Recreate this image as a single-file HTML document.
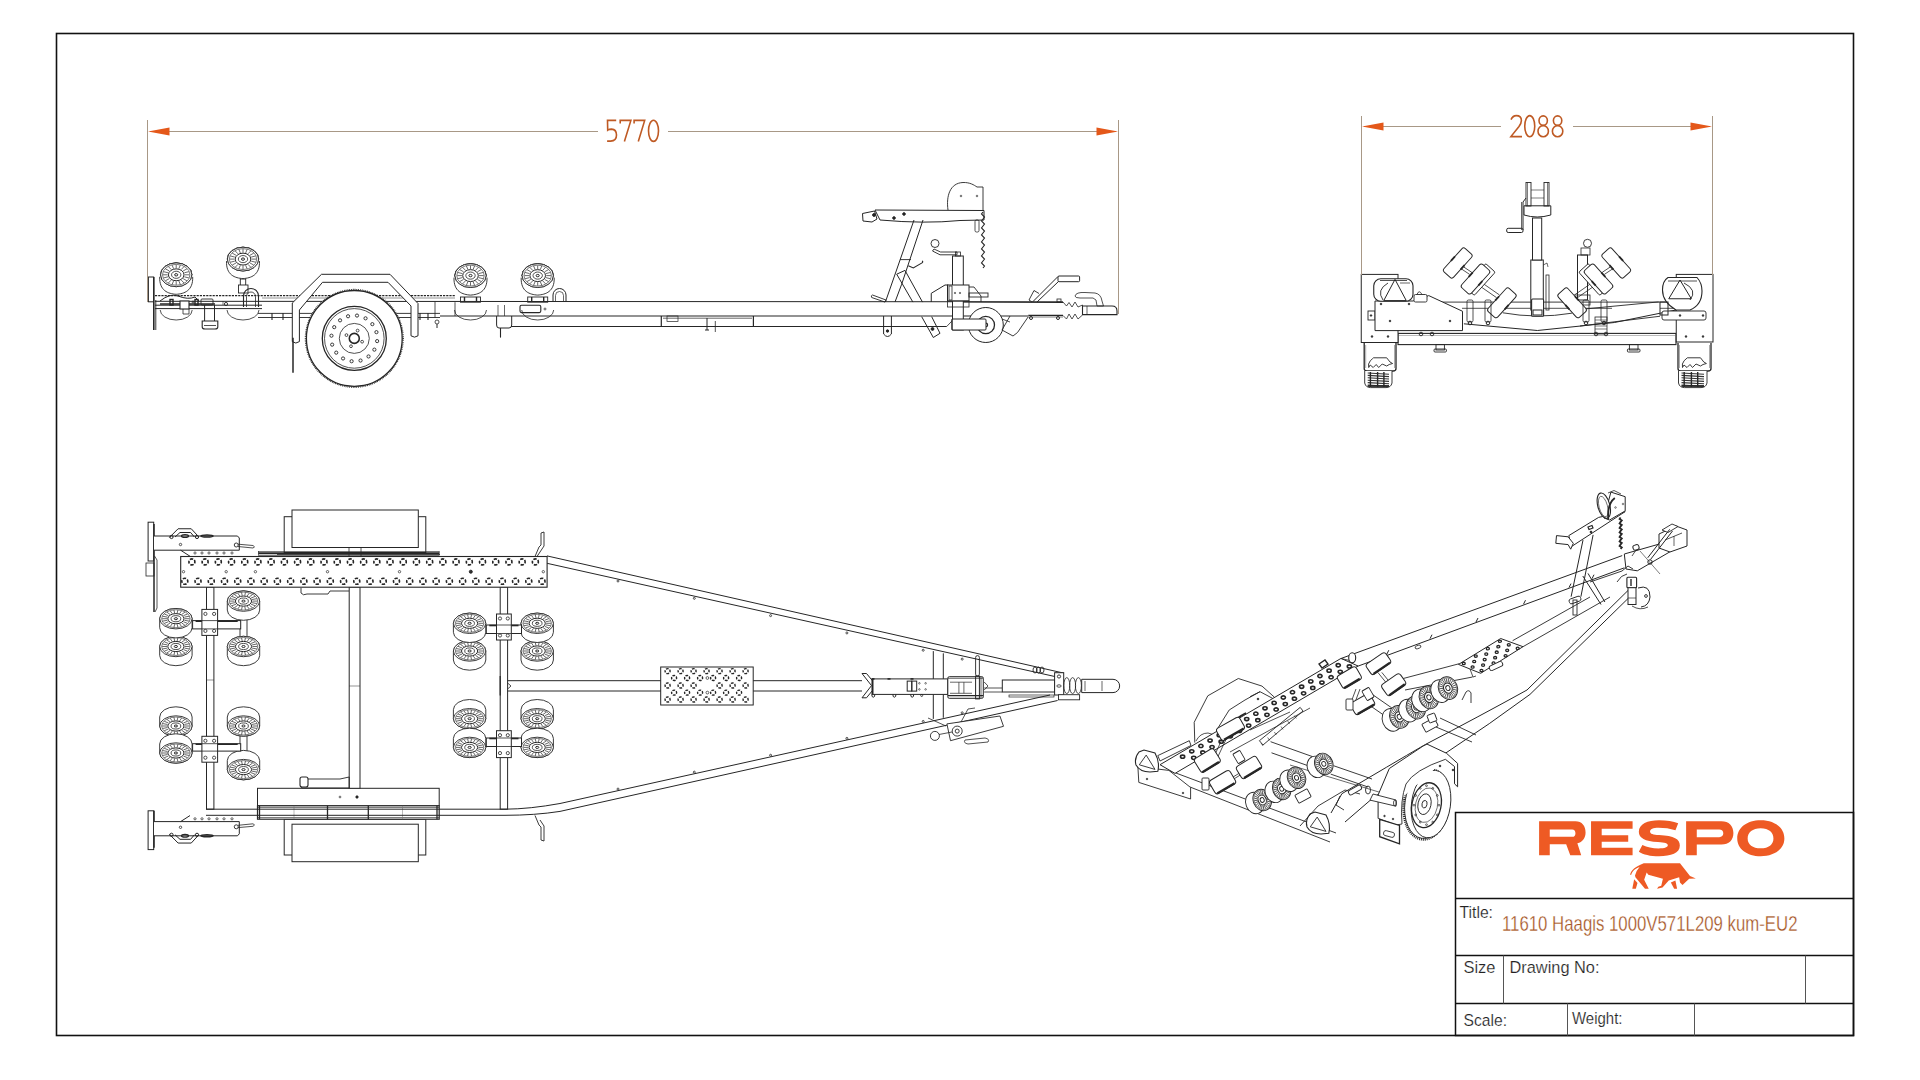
<!DOCTYPE html>
<html><head><meta charset="utf-8">
<style>
html,body{margin:0;padding:0;background:#fff;width:1920px;height:1080px;overflow:hidden}
svg{display:block}
text{font-family:"Liberation Sans",sans-serif}
</style></head>
<body>
<svg width="1920" height="1080" viewBox="0 0 1920 1080">
<rect x="0" y="0" width="1920" height="1080" fill="#fff"/>
<rect x="56.5" y="33.5" width="1797" height="1002" fill="none" stroke="#111" stroke-width="1.6"/>
<g id="side" fill="none" stroke="#262626" stroke-width="1">
<path d="M160.2,310 A16,10 0 0 0 192.2,310" stroke-width="0.8"/>
<path d="M227,310 A16,10 0 0 0 259,310" stroke-width="0.8"/>
<path d="M454.5,310 A16,10 0 0 0 486.5,310" stroke-width="0.8"/>
<path d="M521.7,310 A16,10 0 0 0 553.7,310" stroke-width="0.8"/>
<line x1="155" y1="295.6" x2="455" y2="295.6" stroke-width="1.4" stroke-dasharray="2.2,1"/>
<line x1="262" y1="298" x2="455" y2="298" stroke-width="0.7" stroke="#666"/>
<line x1="155" y1="301.3" x2="1063" y2="301.8" stroke-width="1"/>
<line x1="155" y1="305.2" x2="262" y2="305.2" stroke-width="1"/>
<line x1="155" y1="308.6" x2="262" y2="308.6" stroke-width="1"/>
<line x1="440" y1="316" x2="1028" y2="316" stroke-width="1.1"/>
<line x1="455" y1="302.2" x2="455" y2="316" stroke-width="0.8"/>
<line x1="511" y1="326.5" x2="946.7" y2="326.5" stroke-width="1"/>
<line x1="946.7" y1="326.5" x2="952.5" y2="320.4" stroke-width="0.8"/>
<line x1="661.3" y1="316" x2="661.3" y2="326.5" stroke-width="1.2"/>
<line x1="753.4" y1="316" x2="753.4" y2="326.5" stroke-width="1.2"/>
<line x1="663" y1="318.2" x2="752" y2="318.2" stroke-width="0.7"/>
<rect x="667" y="316" width="11" height="5.5" stroke-width="0.7"/>
<line x1="707" y1="318" x2="707" y2="330" stroke-width="1"/>
<line x1="705" y1="330" x2="709" y2="330" stroke-width="1"/>
<line x1="715.3" y1="321" x2="715.3" y2="332" stroke-width="0.8"/>
<line x1="258" y1="313.4" x2="440" y2="313.4" stroke-width="0.9"/>
<line x1="258" y1="317.5" x2="440" y2="317.5" stroke-width="0.9"/>
<line x1="435" y1="301.5" x2="435" y2="317.5" stroke-width="0.8"/>
<line x1="272" y1="313" x2="272" y2="320" stroke-width="1.1"/>
<line x1="283" y1="313" x2="283" y2="320" stroke-width="1.1"/>
<line x1="420" y1="313" x2="420" y2="320" stroke-width="1.1"/>
<line x1="428" y1="313" x2="428" y2="320" stroke-width="1.1"/>
<circle cx="437" cy="322" r="2" stroke-width="0.8"/>
<line x1="437" y1="324" x2="437" y2="328" stroke-width="1"/>
<rect x="520" y="305.3" width="20.8" height="7.3" stroke-width="1.1" rx="1.5"/>
<circle cx="545" cy="309" r="1" stroke-width="0.7"/>
<path d="M496.6,316 L496.6,325 Q496.6,328 499,328 L509,328 Q511.7,328 511.7,325 L511.7,316" stroke-width="1"/>
<line x1="500.5" y1="328" x2="500.5" y2="337.6" stroke-width="1.1"/>
<line x1="498" y1="305" x2="498" y2="316" stroke-width="0.7"/>
<line x1="504.5" y1="305" x2="504.5" y2="316" stroke-width="0.7"/>
<path d="M883.6,316 L883.6,334 Q887.5,339 891.4,334 L891.4,316" stroke-width="1"/>
<circle cx="887.5" cy="331" r="1.2" stroke-width="1" fill="#222"/>
<rect x="460.5" y="297" width="20" height="5.2" stroke-width="0.9"/>
<line x1="464.5" y1="297" x2="464.5" y2="302" stroke-width="1.4"/>
<line x1="476.5" y1="297" x2="476.5" y2="302" stroke-width="1.4"/>
<rect x="527.7" y="297" width="20" height="5.2" stroke-width="0.9"/>
<line x1="531.7" y1="297" x2="531.7" y2="302" stroke-width="1.4"/>
<line x1="543.7" y1="297" x2="543.7" y2="302" stroke-width="1.4"/>
<path d="M553,302 L553,295 A6.5,6.5 0 0 1 566,295 L566,302" stroke-width="1"/>
<path d="M555.5,302 L555.5,295.5 A4,4 0 0 1 563.5,295.5 L563.5,302" stroke-width="0.7"/>
<rect x="148.4" y="277" width="5.2" height="24.8" stroke-width="1" fill="#fff"/>
<line x1="153.8" y1="277" x2="153.8" y2="330" stroke-width="1.6"/>
<line x1="155.8" y1="300" x2="155.8" y2="330" stroke-width="0.9"/>
<path d="M160,301 Q170,293 178,296 Q188,300 195,297 L199,301" stroke-width="1"/>
<rect x="170" y="299.5" width="3" height="5.5" stroke-width="1.4"/>
<rect x="195" y="299.5" width="3" height="5.5" stroke-width="1.4"/>
<rect x="201" y="299" width="12" height="6" stroke-width="0.9" rx="1"/>
<line x1="160" y1="304" x2="215" y2="304" stroke-width="1.4"/>
<rect x="180" y="301" width="9" height="8" stroke-width="1.1" fill="#fff"/>
<path d="M183,309 L183,314 L189,314 L189,309" stroke-width="0.8"/>
<circle cx="193" cy="302" r="1" stroke-width="0.8"/>
<circle cx="226" cy="304" r="1.6" stroke-width="0.9"/>
<line x1="223" y1="301" x2="223" y2="305" stroke-width="0.6"/>
<line x1="204.6" y1="305" x2="204.6" y2="321" stroke-width="1"/>
<line x1="214.5" y1="305" x2="214.5" y2="321" stroke-width="1"/>
<path d="M202.2,321 L217.8,321 L217.8,327 Q217.8,329 215,329 L205,329 Q202.2,329 202.2,327 Z" stroke-width="1.1"/>
<line x1="204" y1="325.5" x2="216" y2="325.5" stroke-width="0.8"/>
<rect x="240.3" y="279" width="5.4" height="8" stroke-width="0.9"/>
<rect x="238.5" y="285" width="9.5" height="8" stroke-width="0.9" fill="#fff"/>
<path d="M243.5,307 L243.5,296 A7.5,7.5 0 0 1 258.5,296 L258.5,307" stroke-width="1.1"/>
<path d="M246.5,307 L246.5,296.5 A4.5,4.5 0 0 1 255.5,296.5 L255.5,307" stroke-width="0.8"/>
<path d="M160.4,274.8 A15.8,11.9 0 0 1 192,274.8 A17,17 0 0 1 160.4,274.8 Z" stroke-width="0.9" fill="#fff"/>
<path d="M159.7,276.8 C159.2,290.8 168.2,293.8 176.2,294.3 C184.2,293.8 193.2,290.8 192.7,276.8" stroke-width="0.9" fill="#fff"/>
<g>
<path d="M160.6,274.8 A15.6,11.9 0 0 1 191.8,274.8 L191.8,274.8 A15.6,11.9 0 0 1 160.6,274.8 Z" stroke-width="0.9" fill="#fff"/>
<ellipse cx="176.2" cy="274.8" rx="15.6" ry="11.9" stroke-width="0.9" fill="#fff"/>
<ellipse cx="176.2" cy="274.8" rx="13.73" ry="10.47" stroke-width="0.6"/>
<path d="M184.78,274.8L189.46,274.8M184.36,276.82L188.81,277.93M183.14,278.65L186.93,280.75M181.24,280.1L183.99,282.98M178.85,281.02L180.3,284.42M176.2,281.35L176.2,284.92M173.55,281.02L172.1,284.42M171.16,280.1L168.41,282.98M169.26,278.65L165.47,280.75M168.04,276.82L163.59,277.93M167.62,274.8L162.94,274.8M168.04,272.78L163.59,271.67M169.26,270.95L165.47,268.85M171.16,269.5L168.41,266.62M173.55,268.58L172.1,265.18M176.2,268.25L176.2,264.69M178.85,268.58L180.3,265.18M181.24,269.5L183.99,266.62M183.14,270.95L186.93,268.85M184.36,272.78L188.81,271.67" stroke-width="0.7"/>
<ellipse cx="176.2" cy="274.8" rx="7.8" ry="5.95" stroke-width="1"/>
<ellipse cx="176.2" cy="274.8" rx="4.68" ry="3.57" stroke-width="0.8"/>
<ellipse cx="176.2" cy="274.8" rx="1.56" ry="1.19" stroke-width="1"/>
</g>
<path d="M227.2,259.1 A15.8,11.9 0 0 1 258.8,259.1 A17,17 0 0 1 227.2,259.1 Z" stroke-width="0.9" fill="#fff"/>
<path d="M226.5,261.1 C226,275.1 235,278.1 243,278.6 C251,278.1 260,275.1 259.5,261.1" stroke-width="0.9" fill="#fff"/>
<g>
<path d="M227.4,259.1 A15.6,11.9 0 0 1 258.6,259.1 L258.6,259.1 A15.6,11.9 0 0 1 227.4,259.1 Z" stroke-width="0.9" fill="#fff"/>
<ellipse cx="243" cy="259.1" rx="15.6" ry="11.9" stroke-width="0.9" fill="#fff"/>
<ellipse cx="243" cy="259.1" rx="13.73" ry="10.47" stroke-width="0.6"/>
<path d="M251.58,259.1L256.26,259.1M251.16,261.12L255.61,262.23M249.94,262.95L253.73,265.05M248.04,264.4L250.79,267.28M245.65,265.32L247.1,268.72M243,265.65L243,269.22M240.35,265.32L238.9,268.72M237.96,264.4L235.21,267.28M236.06,262.95L232.27,265.05M234.84,261.12L230.39,262.23M234.42,259.1L229.74,259.1M234.84,257.08L230.39,255.97M236.06,255.25L232.27,253.15M237.96,253.8L235.21,250.92M240.35,252.88L238.9,249.48M243,252.56L243,248.99M245.65,252.88L247.1,249.48M248.04,253.8L250.79,250.92M249.94,255.25L253.73,253.15M251.16,257.08L255.61,255.97" stroke-width="0.7"/>
<ellipse cx="243" cy="259.1" rx="7.8" ry="5.95" stroke-width="1"/>
<ellipse cx="243" cy="259.1" rx="4.68" ry="3.57" stroke-width="0.8"/>
<ellipse cx="243" cy="259.1" rx="1.56" ry="1.19" stroke-width="1"/>
</g>
<path d="M454.7,275.6 A15.8,11.9 0 0 1 486.3,275.6 A17,17 0 0 1 454.7,275.6 Z" stroke-width="0.9" fill="#fff"/>
<path d="M454,277.6 C453.5,291.6 462.5,294.6 470.5,295.1 C478.5,294.6 487.5,291.6 487,277.6" stroke-width="0.9" fill="#fff"/>
<g>
<path d="M454.9,275.6 A15.6,11.9 0 0 1 486.1,275.6 L486.1,275.6 A15.6,11.9 0 0 1 454.9,275.6 Z" stroke-width="0.9" fill="#fff"/>
<ellipse cx="470.5" cy="275.6" rx="15.6" ry="11.9" stroke-width="0.9" fill="#fff"/>
<ellipse cx="470.5" cy="275.6" rx="13.73" ry="10.47" stroke-width="0.6"/>
<path d="M479.08,275.6L483.76,275.6M478.66,277.62L483.11,278.73M477.44,279.45L481.23,281.55M475.54,280.9L478.29,283.78M473.15,281.82L474.6,285.22M470.5,282.15L470.5,285.72M467.85,281.82L466.4,285.22M465.46,280.9L462.71,283.78M463.56,279.45L459.77,281.55M462.34,277.62L457.89,278.73M461.92,275.6L457.24,275.6M462.34,273.58L457.89,272.47M463.56,271.75L459.77,269.65M465.46,270.3L462.71,267.42M467.85,269.38L466.4,265.98M470.5,269.06L470.5,265.49M473.15,269.38L474.6,265.98M475.54,270.3L478.29,267.42M477.44,271.75L481.23,269.65M478.66,273.58L483.11,272.47" stroke-width="0.7"/>
<ellipse cx="470.5" cy="275.6" rx="7.8" ry="5.95" stroke-width="1"/>
<ellipse cx="470.5" cy="275.6" rx="4.68" ry="3.57" stroke-width="0.8"/>
<ellipse cx="470.5" cy="275.6" rx="1.56" ry="1.19" stroke-width="1"/>
</g>
<path d="M521.9,275.6 A15.8,11.9 0 0 1 553.5,275.6 A17,17 0 0 1 521.9,275.6 Z" stroke-width="0.9" fill="#fff"/>
<path d="M521.2,277.6 C520.7,291.6 529.7,294.6 537.7,295.1 C545.7,294.6 554.7,291.6 554.2,277.6" stroke-width="0.9" fill="#fff"/>
<g>
<path d="M522.1,275.6 A15.6,11.9 0 0 1 553.3,275.6 L553.3,275.6 A15.6,11.9 0 0 1 522.1,275.6 Z" stroke-width="0.9" fill="#fff"/>
<ellipse cx="537.7" cy="275.6" rx="15.6" ry="11.9" stroke-width="0.9" fill="#fff"/>
<ellipse cx="537.7" cy="275.6" rx="13.73" ry="10.47" stroke-width="0.6"/>
<path d="M546.28,275.6L550.96,275.6M545.86,277.62L550.31,278.73M544.64,279.45L548.43,281.55M542.74,280.9L545.49,283.78M540.35,281.82L541.8,285.22M537.7,282.15L537.7,285.72M535.05,281.82L533.6,285.22M532.66,280.9L529.91,283.78M530.76,279.45L526.97,281.55M529.54,277.62L525.09,278.73M529.12,275.6L524.44,275.6M529.54,273.58L525.09,272.47M530.76,271.75L526.97,269.65M532.66,270.3L529.91,267.42M535.05,269.38L533.6,265.98M537.7,269.06L537.7,265.49M540.35,269.38L541.8,265.98M542.74,270.3L545.49,267.42M544.64,271.75L548.43,269.65M545.86,273.58L550.31,272.47" stroke-width="0.7"/>
<ellipse cx="537.7" cy="275.6" rx="7.8" ry="5.95" stroke-width="1"/>
<ellipse cx="537.7" cy="275.6" rx="4.68" ry="3.57" stroke-width="0.8"/>
<ellipse cx="537.7" cy="275.6" rx="1.56" ry="1.19" stroke-width="1"/>
</g>
<circle cx="354.3" cy="338.4" r="48.9" stroke-width="1.3" fill="#fff" stroke-dasharray="0.8,1.0"/>
<circle cx="354.3" cy="338.4" r="47.9" stroke-width="1.3"/>
<circle cx="354.3" cy="338.4" r="32" stroke-width="1.3"/>
<circle cx="354.3" cy="338.4" r="29.8" stroke-width="0.8"/>
<circle cx="354.3" cy="338.4" r="15" stroke-width="0.8"/>
<circle cx="354.3" cy="338.4" r="5" stroke-width="1.6"/>
<circle cx="377.14" cy="341.1" r="1.6" stroke-width="0.9"/>
<circle cx="374.37" cy="349.64" r="1.6" stroke-width="0.9"/>
<circle cx="368.54" cy="356.46" r="1.6" stroke-width="0.9"/>
<circle cx="360.54" cy="360.54" r="1.6" stroke-width="0.9"/>
<circle cx="351.6" cy="361.24" r="1.6" stroke-width="0.9"/>
<circle cx="343.06" cy="358.47" r="1.6" stroke-width="0.9"/>
<circle cx="336.24" cy="352.64" r="1.6" stroke-width="0.9"/>
<circle cx="332.16" cy="344.64" r="1.6" stroke-width="0.9"/>
<circle cx="331.46" cy="335.7" r="1.6" stroke-width="0.9"/>
<circle cx="334.23" cy="327.16" r="1.6" stroke-width="0.9"/>
<circle cx="340.06" cy="320.34" r="1.6" stroke-width="0.9"/>
<circle cx="348.06" cy="316.26" r="1.6" stroke-width="0.9"/>
<circle cx="357" cy="315.56" r="1.6" stroke-width="0.9"/>
<circle cx="365.54" cy="318.33" r="1.6" stroke-width="0.9"/>
<circle cx="372.36" cy="324.16" r="1.6" stroke-width="0.9"/>
<circle cx="376.44" cy="332.16" r="1.6" stroke-width="0.9"/>
<circle cx="362.13" cy="341.71" r="1.4" stroke-width="0.8"/>
<circle cx="350.99" cy="346.23" r="1.4" stroke-width="0.8"/>
<circle cx="346.47" cy="335.09" r="1.4" stroke-width="0.8"/>
<circle cx="357.61" cy="330.57" r="1.4" stroke-width="0.8"/>
<path d="M292.3,341.6 L292.3,303 L321.5,274.3 L390,274.3 L418,303.5 L418,335.8 Q414.5,338.5 411,335.8 L411,306 L388,282.3 L322.5,282.3 L299.4,310 L299.4,341.6 Q295.8,344.5 292.3,341.6 Z" stroke-width="1" fill="#fff"/>
<line x1="293" y1="337.8" x2="293" y2="372.8" stroke-width="1.5"/>
<path d="M875,210 L984,210.5 L984,220 L960,220.5 Q925,224 880,220 Z" stroke-width="1" fill="#fff"/>
<polygon points="862.5,213.5 874.5,211 877,219 872,222 863,221" stroke-width="1" fill="#fff"/>
<circle cx="874" cy="215" r="1.4" stroke-width="1" fill="#222"/>
<circle cx="894" cy="218" r="1.3" stroke-width="1" fill="#222"/>
<circle cx="904" cy="214" r="1.3" stroke-width="1" fill="#222"/>
<path d="M948,210 C946,196 950,183 963,182.5 C970,182.3 974,185 977,187 L983,187 L983,210" stroke-width="0.9"/>
<circle cx="961" cy="196" r="0.8" stroke-width="0.7"/>
<circle cx="977" cy="196" r="0.8" stroke-width="0.7"/>
<rect x="975" y="220" width="4" height="12" stroke-width="0.8" rx="1.5"/>
<path d="M983,212 L981.5,214 L984.5,217 L983,219 L981.5,221 L984.5,224 L983,226 L981.5,228 L984.5,231 L983,233 L981.5,235 L984.5,238 L983,240 L981.5,242 L984.5,245 L983,247 L981.5,249 L984.5,252 L983,254 L981.5,256 L984.5,259 L983,261 L981.5,263 L984.5,266 L983,268" stroke-width="1.1"/>
<line x1="914" y1="220" x2="885.4" y2="302" stroke-width="1"/>
<line x1="923" y1="220" x2="901.7" y2="284.2" stroke-width="1"/>
<line x1="900" y1="259.6" x2="911" y2="259.6" stroke-width="0.9"/>
<line x1="901.7" y1="284.2" x2="895" y2="302" stroke-width="1"/>
<polyline points="912.9,302.1 896.7,274.2 905,270.4 922.5,302.1" stroke-width="1"/>
<polyline points="921.7,316.7 933.3,337.5 940,333.3 931.7,316.7" stroke-width="1"/>
<circle cx="932.5" cy="329" r="1.4" stroke-width="1" fill="#222"/>
<path d="M908.3,265.8 L913.3,267.9 L922,262.9 Q923.5,261.5 922,261" stroke-width="1.1"/>
<path d="M871.7,297.5 L885,302.1 L886,300 L872.5,295 Q870.5,295.5 871.7,297.5 Z" stroke-width="0.9"/>
<rect x="952.5" y="256" width="10.8" height="74" stroke-width="1" fill="#fff"/>
<rect x="955.5" y="252" width="5" height="4" stroke-width="0.8"/>
<path d="M934,249 L940.5,252 L957,252 L957,254.8 L940,254.8 L932.5,251 Z" stroke-width="0.9"/>
<circle cx="935" cy="243.5" r="4" stroke-width="0.9" fill="#fff"/>
<polyline points="969,287 974,287 981,296 981,302" stroke-width="0.9"/>
<path d="M931.25,302 L931.25,293.3 L945,285 L948.3,285" stroke-width="1"/>
<rect x="947.5" y="285" width="21.5" height="16" stroke-width="1" fill="#fff"/>
<rect x="949" y="286" width="3" height="14" stroke-width="0.8"/>
<circle cx="955" cy="293" r="0.7" stroke-width="0.7"/>
<circle cx="960" cy="293" r="0.7" stroke-width="0.7"/>
<rect x="969" y="293" width="19" height="4" stroke-width="0.9"/>
<rect x="947.5" y="301" width="21.5" height="6" stroke-width="0.8"/>
<circle cx="985.8" cy="325" r="17.5" stroke-width="1" fill="#fff"/>
<circle cx="985.8" cy="325" r="8.7" stroke-width="1.3"/>
<circle cx="985.8" cy="325" r="1.8" stroke-width="1.2"/>
<rect x="952" y="319" width="34" height="11" stroke-width="1" fill="#fff" rx="1"/>
<line x1="952" y1="319" x2="952" y2="330" stroke-width="1"/>
<line x1="963.3" y1="302" x2="1063" y2="302.5" stroke-width="1"/>
<line x1="1028.3" y1="315.4" x2="1063" y2="315.4" stroke-width="1.2"/>
<line x1="1028.3" y1="317" x2="1063" y2="317" stroke-width="0.6"/>
<polyline points="1028.3,316.7 1017.5,332.5 1013,336 1002,330 1010,316" stroke-width="0.9"/>
<line x1="1002" y1="319" x2="1010" y2="322" stroke-width="0.8"/>
<circle cx="1031" cy="318" r="1.5" stroke-width="1"/>
<circle cx="1058" cy="318" r="1.5" stroke-width="1"/>
<path d="M1063,302 L1066.5,306 L1069,302.5 L1072,307 L1075,302 L1078,307 L1082.5,305 L1082.5,315 L1078,319 L1075,314 L1072,319 L1069,314 L1066.5,319 L1063,315.5" stroke-width="0.8"/>
<path d="M1082.5,306 L1112,306 Q1117,306 1117,311 L1117,314.6 L1082.5,314.6 Z" stroke-width="1.1" fill="#fff"/>
<line x1="1087" y1="306" x2="1087" y2="314.6" stroke-width="0.7"/>
<path d="M1075,296 Q1076,292 1085,292.5 L1095,293 Q1101,294 1102,301 L1103.5,306 L1097,306 L1096,300 Q1094,297 1088,298 L1080,298 Q1075,298 1075,296 Z" stroke-width="0.8"/>
<line x1="1032.5" y1="302" x2="1058" y2="276.5" stroke-width="1"/>
<line x1="1037" y1="302" x2="1058.5" y2="281.5" stroke-width="1"/>
<rect x="1058" y="276" width="21.6" height="5.7" stroke-width="1" rx="1"/>
<path d="M1032,302 L1029,300 L1034,290.5 L1039,293.5" stroke-width="0.9"/>
<rect x="1057" y="299" width="4" height="3" stroke-width="0.8"/>
</g>
<g id="rear" fill="none" stroke="#262626" stroke-width="1">
<rect x="1398" y="333.4" width="278" height="11.2" stroke-width="1.1"/>
<line x1="1398" y1="335.5" x2="1676" y2="335.5" stroke-width="0.5" stroke="#777"/>
<line x1="1375" y1="302.1" x2="1700" y2="302.1" stroke-width="0.9"/>
<line x1="1462" y1="308.3" x2="1612" y2="308.3" stroke-width="0.8"/>
<line x1="1660" y1="308.3" x2="1700" y2="308.3" stroke-width="0.8"/>
<polyline points="1463.9,323.8 1537.4,330.5 1614.4,322.5 1676,310" stroke-width="1"/>
<path d="M1502.8,312.8 Q1537,319 1571.9,313.2" stroke-width="0.9"/>
<line x1="1580" y1="326" x2="1660" y2="316.25" stroke-width="0.9"/>
<rect x="1361.25" y="274.4" width="36.75" height="68.1" stroke-width="1" fill="#fff"/>
<rect x="1368" y="311" width="7" height="9" stroke-width="0.9" fill="#fff"/>
<circle cx="1371" cy="315.5" r="0.8" stroke-width="0.8" fill="#222"/>
<polygon points="1375,301 1413,301 1428.75,295.6 1462.5,311.25 1462.5,330.6 1375,330.6" stroke-width="1" fill="#fff"/>
<circle cx="1381" cy="304" r="0.9" stroke-width="0.5" fill="#222"/>
<circle cx="1409" cy="304" r="0.9" stroke-width="0.5" fill="#222"/>
<circle cx="1390" cy="321" r="0.9" stroke-width="0.5" fill="#222"/>
<circle cx="1450" cy="321" r="0.9" stroke-width="0.5" fill="#222"/>
<circle cx="1372" cy="336.5" r="0.9" stroke-width="0.5" fill="#222"/>
<circle cx="1388" cy="336.5" r="0.9" stroke-width="0.5" fill="#222"/>
<rect x="1414" y="294.5" width="13" height="7.5" stroke-width="0.9" fill="#fff" rx="1.5"/>
<path d="M1417,294.5 Q1419,289 1422,294.5" stroke-width="0.8"/>
<rect x="1373.75" y="278.75" width="39.25" height="22.5" stroke-width="1.1" fill="#fff" rx="7"/>
<line x1="1380" y1="280.5" x2="1407" y2="280.5" stroke-width="0.8"/>
<polygon points="1383.75,300.6 1395,279.4 1406.25,300.6" stroke-width="1"/>
<path d="M1388,283 Q1376,290 1383,300" stroke-width="0.9"/>
<path d="M1400,283 L1410,283" stroke-width="0.7"/>
<rect x="1676.25" y="274.4" width="36.75" height="67.6" stroke-width="1" fill="#fff"/>
<rect x="1662" y="311" width="44" height="9" stroke-width="0.9" fill="#fff" rx="2"/>
<circle cx="1680" cy="315.5" r="0.9" stroke-width="0.5" fill="#222"/>
<circle cx="1703" cy="315.5" r="0.9" stroke-width="0.5" fill="#222"/>
<circle cx="1686" cy="336.5" r="0.9" stroke-width="0.5" fill="#222"/>
<circle cx="1703" cy="336.5" r="0.9" stroke-width="0.5" fill="#222"/>
<path d="M1668,277.5 L1697,277.5 Q1702,283 1702,291 Q1702,305 1690,310 L1676,310 Q1662.5,302 1662.5,290 Q1662.5,281 1668,277.5 Z" stroke-width="1.1" fill="#fff"/>
<line x1="1668" y1="281" x2="1697" y2="281" stroke-width="0.8"/>
<polygon points="1668.75,298.75 1680,280 1691.25,298.75" stroke-width="1"/>
<path d="M1684,283 Q1698,290 1690,300" stroke-width="0.9"/>
<line x1="1580" y1="309.4" x2="1658.75" y2="301.9" stroke-width="0.9"/>
<rect x="1660" y="302" width="8" height="13" stroke-width="1"/>
<path d="M1364.2,343 L1364.2,368.5 Q1364.2,371 1367.2,371 L1393,371 Q1396,371 1396,368.5 L1396,343" stroke-width="1.3" fill="#fff"/>
<line x1="1365.7" y1="345" x2="1365.7" y2="368" stroke-width="0.7" stroke="#888"/>
<line x1="1394.5" y1="345" x2="1394.5" y2="368" stroke-width="0.7" stroke="#888"/>
<path d="M1368.6,364 Q1370.2,360 1372.2,359 L1373.5,357.8 L1386.7,357.8 L1390,362 L1392.6,363.5 L1389.2,364.5 L1386.7,366 L1382.2,364 L1378.7,367.5 L1376.2,364.5 L1373.2,367.5 L1370.2,365 L1368.7,367.5 L1368.6,364" stroke-width="0.9"/>
<path d="M1364.7,371 L1364.7,383 Q1365.7,387.6 1370.7,387.6 L1386,387.6 Q1391,387.6 1392,383 L1392,371" stroke-width="0.9" fill="#fff"/>
<path d="M1367.7,373L1389,374.2M1367.7,375.4L1389,376.6M1367.7,377.8L1389,379M1367.7,380.2L1389,381.4M1367.7,382.6L1389,383.8M1367.7,385L1389,386.2" stroke-width="1.1" stroke="#333"/>
<line x1="1367.7" y1="386" x2="1389" y2="386" stroke-width="1.8"/>
<line x1="1370.4" y1="372" x2="1370.4" y2="387" stroke-width="1.4"/>
<line x1="1377.6" y1="372" x2="1377.6" y2="387" stroke-width="1.4"/>
<line x1="1383.9" y1="372" x2="1383.9" y2="387" stroke-width="1.4"/>
<path d="M1678,343 L1678,368.5 Q1678,371 1681,371 L1708,371 Q1711,371 1711,368.5 L1711,343" stroke-width="1.3" fill="#fff"/>
<line x1="1679.5" y1="345" x2="1679.5" y2="368" stroke-width="0.7" stroke="#888"/>
<line x1="1709.5" y1="345" x2="1709.5" y2="368" stroke-width="0.7" stroke="#888"/>
<path d="M1682.4,364 Q1684,360 1686,359 L1687.3,357.8 L1700.5,357.8 L1703.8,362 L1706.4,363.5 L1703,364.5 L1700.5,366 L1696,364 L1692.5,367.5 L1690,364.5 L1687,367.5 L1684,365 L1682.5,367.5 L1682.4,364" stroke-width="0.9"/>
<path d="M1678.5,371 L1678.5,383 Q1679.5,387.6 1684.5,387.6 L1701,387.6 Q1706,387.6 1707,383 L1707,371" stroke-width="0.9" fill="#fff"/>
<path d="M1681.5,373L1704,374.2M1681.5,375.4L1704,376.6M1681.5,377.8L1704,379M1681.5,380.2L1704,381.4M1681.5,382.6L1704,383.8M1681.5,385L1704,386.2" stroke-width="1.1" stroke="#333"/>
<line x1="1681.5" y1="386" x2="1704" y2="386" stroke-width="1.8"/>
<line x1="1684.2" y1="372" x2="1684.2" y2="387" stroke-width="1.4"/>
<line x1="1691.4" y1="372" x2="1691.4" y2="387" stroke-width="1.4"/>
<line x1="1697.7" y1="372" x2="1697.7" y2="387" stroke-width="1.4"/>
<rect x="1436" y="344.6" width="8.4" height="5.4" stroke-width="0.9"/>
<rect x="1434" y="349" width="12.4" height="3" stroke-width="0.9" rx="1"/>
<rect x="1629.4" y="344.6" width="8.6" height="5.4" stroke-width="0.9"/>
<rect x="1627.4" y="349" width="12.6" height="3" stroke-width="0.9" rx="1"/>
<circle cx="1421" cy="334" r="1.8" stroke-width="0.9"/>
<circle cx="1432" cy="334" r="1.8" stroke-width="0.9"/>
<circle cx="1596" cy="334" r="1.8" stroke-width="0.9"/>
<circle cx="1606" cy="334" r="1.8" stroke-width="0.9"/>
<rect x="1595" y="317" width="12" height="17" stroke-width="0.8"/>
<line x1="1595" y1="320" x2="1607" y2="320" stroke-width="0.6"/>
<line x1="1595" y1="323" x2="1607" y2="323" stroke-width="0.6"/>
<line x1="1595" y1="326" x2="1607" y2="326" stroke-width="0.6"/>
<line x1="1595" y1="329" x2="1607" y2="329" stroke-width="0.6"/>
<rect x="1530.8" y="260" width="12.5" height="50" stroke-width="1" fill="#fff"/>
<rect x="1532.5" y="218" width="9.2" height="42" stroke-width="1" fill="#fff"/>
<path d="M1524,205.8 L1550.8,205.8 L1550.8,215 Q1537,219 1524,215 Z" stroke-width="1" fill="#fff"/>
<rect x="1526" y="182.5" width="5" height="23.5" stroke-width="0.9"/>
<rect x="1544" y="182.5" width="5" height="23.5" stroke-width="0.9"/>
<line x1="1527.5" y1="182.5" x2="1527.5" y2="206" stroke-width="0.6"/>
<line x1="1547.5" y1="182.5" x2="1547.5" y2="206" stroke-width="0.6"/>
<line x1="1531" y1="190" x2="1544" y2="190" stroke-width="0.6"/>
<line x1="1531" y1="198" x2="1544" y2="198" stroke-width="0.6"/>
<polyline points="1526,198 1523,202 1523,230" stroke-width="1"/>
<line x1="1521.5" y1="202" x2="1521.5" y2="230" stroke-width="0.7"/>
<rect x="1506.7" y="228.3" width="16.3" height="4.2" stroke-width="1" rx="1.5"/>
<rect x="1531.6" y="299" width="12" height="17.3" stroke-width="1.1" fill="#fff" rx="1"/>
<rect x="1533" y="310" width="9" height="5" stroke-width="1"/>
<rect x="1546" y="275" width="3" height="35" stroke-width="0.8"/>
<path d="M1543.3,265 L1547,263 L1548,267" stroke-width="0.7"/>
<rect x="1577.5" y="255" width="10" height="45" stroke-width="1" fill="#fff"/>
<rect x="1581" y="248" width="9" height="7" stroke-width="0.8"/>
<circle cx="1587.5" cy="243.3" r="4" stroke-width="0.9" fill="#fff"/>
<rect x="1574" y="295" width="16" height="10" stroke-width="0.8"/>
<line x1="1461.75" y1="269.15" x2="1469.55" y2="274.35" stroke-width="0.8"/>
<line x1="1612.25" y1="269.15" x2="1604.45" y2="274.35" stroke-width="0.8"/>
<line x1="1463.85" y1="267.05" x2="1471.65" y2="272.25" stroke-width="0.8"/>
<line x1="1610.15" y1="267.05" x2="1602.35" y2="272.25" stroke-width="0.8"/>
<line x1="1479.5" y1="285.8" x2="1496.6" y2="297.7" stroke-width="0.8"/>
<line x1="1594.5" y1="285.8" x2="1577.4" y2="297.7" stroke-width="0.8"/>
<line x1="1482.3" y1="283" x2="1499.4" y2="294.9" stroke-width="0.8"/>
<line x1="1591.7" y1="283" x2="1574.6" y2="294.9" stroke-width="0.8"/>
<rect x="1442" y="256.55" width="31.5" height="12.9" rx="2.5" transform="rotate(-48 1457.75 263)" stroke-width="0.95" fill="#fff"/>
<rect x="1600.5" y="256.55" width="31.5" height="12.9" rx="2.5" transform="rotate(48 1616.25 263)" stroke-width="0.95" fill="#fff"/>
<line x1="1460.54" y1="269.55" x2="1464.55" y2="265.09" stroke-width="1.8"/>
<line x1="1613.46" y1="269.55" x2="1609.45" y2="265.09" stroke-width="1.8"/>
<line x1="1450.95" y1="260.91" x2="1454.96" y2="256.45" stroke-width="1.8"/>
<line x1="1623.05" y1="260.91" x2="1619.04" y2="256.45" stroke-width="1.8"/>
<rect x="1464.35" y="273.05" width="31.3" height="12.9" rx="1.5" transform="rotate(-48 1480 279.5)" stroke-width="0.9" fill="#fff"/>
<rect x="1578.35" y="273.05" width="31.3" height="12.9" rx="1.5" transform="rotate(48 1594 279.5)" stroke-width="0.9" fill="#fff"/>
<rect x="1459.85" y="272.55" width="31.3" height="12.9" rx="2.5" transform="rotate(-48 1475.5 279)" stroke-width="0.95" fill="#fff"/>
<rect x="1582.85" y="272.55" width="31.3" height="12.9" rx="2.5" transform="rotate(48 1598.5 279)" stroke-width="0.95" fill="#fff"/>
<line x1="1478.29" y1="285.55" x2="1482.3" y2="281.09" stroke-width="1.8"/>
<line x1="1595.71" y1="285.55" x2="1591.7" y2="281.09" stroke-width="1.8"/>
<line x1="1468.7" y1="276.91" x2="1472.71" y2="272.45" stroke-width="1.8"/>
<line x1="1605.3" y1="276.91" x2="1601.29" y2="272.45" stroke-width="1.8"/>
<rect x="1486.25" y="296.35" width="31.3" height="12.9" rx="2.5" transform="rotate(-48 1501.9 302.8)" stroke-width="0.95" fill="#fff"/>
<rect x="1556.45" y="296.35" width="31.3" height="12.9" rx="2.5" transform="rotate(48 1572.1 302.8)" stroke-width="0.95" fill="#fff"/>
<line x1="1504.69" y1="309.35" x2="1508.7" y2="304.89" stroke-width="1.8"/>
<line x1="1569.31" y1="309.35" x2="1565.3" y2="304.89" stroke-width="1.8"/>
<line x1="1495.1" y1="300.71" x2="1499.11" y2="296.25" stroke-width="1.8"/>
<line x1="1578.9" y1="300.71" x2="1574.89" y2="296.25" stroke-width="1.8"/>
<rect x="1467" y="300" width="6" height="22" stroke-width="0.8" rx="1.5"/>
<circle cx="1470" cy="323" r="1.8" stroke-width="1"/>
<rect x="1485" y="300" width="6" height="22" stroke-width="0.8" rx="1.5"/>
<circle cx="1488" cy="323" r="1.8" stroke-width="1"/>
<rect x="1601" y="300" width="6" height="22" stroke-width="0.8" rx="1.5"/>
<circle cx="1604" cy="323" r="1.8" stroke-width="1"/>
<rect x="1583" y="300" width="6" height="22" stroke-width="0.8" rx="1.5"/>
<circle cx="1586" cy="323" r="1.8" stroke-width="1"/>
</g>
<g id="top" fill="none" stroke="#262626" stroke-width="1">
<rect x="284.2" y="516.7" width="141.6" height="35.8" stroke-width="1"/>
<rect x="292" y="510" width="126.3" height="37.5" stroke-width="1" fill="#fff"/>
<rect x="284.2" y="819.2" width="141.6" height="35.8" stroke-width="1"/>
<rect x="292" y="824.2" width="126.3" height="37.5" stroke-width="1" fill="#fff"/>
<line x1="258.3" y1="553.3" x2="439.2" y2="553.3" stroke-width="2"/>
<rect x="258.3" y="551.5" width="180.9" height="4" stroke-width="0.6"/>
<line x1="349" y1="547.5" x2="349" y2="556" stroke-width="0.8"/>
<line x1="361" y1="547.5" x2="361" y2="556" stroke-width="0.8"/>
<rect x="257.5" y="788.3" width="181.7" height="17.5" stroke-width="1" fill="#fff"/>
<rect x="257.5" y="805.8" width="181.7" height="13.4" stroke-width="1.2" fill="#fff"/>
<line x1="257.5" y1="807.5" x2="439.2" y2="807.5" stroke-width="0.6"/>
<line x1="257.5" y1="817.5" x2="439.2" y2="817.5" stroke-width="0.6"/>
<line x1="259.5" y1="805.8" x2="259.5" y2="819.2" stroke-width="1.3"/>
<line x1="327.5" y1="805.8" x2="327.5" y2="819.2" stroke-width="1.3"/>
<line x1="368.3" y1="805.8" x2="368.3" y2="819.2" stroke-width="1.3"/>
<line x1="437" y1="805.8" x2="437" y2="819.2" stroke-width="1.3"/>
<line x1="294" y1="805.8" x2="294" y2="819.2" stroke-width="0.5" stroke="#777"/>
<line x1="402.5" y1="805.8" x2="402.5" y2="819.2" stroke-width="0.5" stroke="#777"/>
<circle cx="340" cy="797" r="0.9" stroke-width="0.7"/>
<circle cx="357" cy="797" r="1.2" stroke-width="0.8" fill="#222"/>
<rect x="206.5" y="587" width="7.4" height="222.2" stroke-width="1" fill="#fff"/>
<rect x="349.2" y="587" width="10.8" height="201.3" stroke-width="1" fill="#fff"/>
<rect x="500.2" y="587" width="7.4" height="222.2" stroke-width="1" fill="#fff"/>
<line x1="206.5" y1="680" x2="213.9" y2="680" stroke-width="0.5"/>
<line x1="349.2" y1="686" x2="360" y2="686" stroke-width="0.5"/>
<path d="M301.7,779 L340,779 L349.2,777 L349.2,788 L301.7,788 Z" stroke-width="0.9"/>
<rect x="300" y="777" width="8" height="10" stroke-width="1.1" fill="#fff" rx="2"/>
<path d="M301,588 L301,593 Q303,596 307,594 L328,594 L330,591 L349,591" stroke-width="0.9"/>
<path d="M206,815.3 L505,815.3 Q535,815.3 560,811.4 L1057.6,700.5" stroke-width="1"/>
<path d="M206,809.2 L505,809.2 Q530,809 560,803.5 L1050,695" stroke-width="1"/>
<line x1="547" y1="555.9" x2="1063.7" y2="673.1" stroke-width="1"/>
<line x1="547" y1="563.3" x2="1055.2" y2="676.6" stroke-width="1"/>
<circle cx="618" cy="581.01" r="1" stroke-width="0.8"/>
<circle cx="618" cy="789.05" r="1" stroke-width="0.8"/>
<circle cx="694.3" cy="598.32" r="1" stroke-width="0.8"/>
<circle cx="694.3" cy="772.15" r="1" stroke-width="0.8"/>
<circle cx="770.6" cy="615.63" r="1" stroke-width="0.8"/>
<circle cx="770.6" cy="755.25" r="1" stroke-width="0.8"/>
<circle cx="846.9" cy="632.95" r="1" stroke-width="0.8"/>
<circle cx="846.9" cy="738.35" r="1" stroke-width="0.8"/>
<circle cx="923.2" cy="650.26" r="1" stroke-width="0.8"/>
<circle cx="923.2" cy="721.45" r="1" stroke-width="0.8"/>
<circle cx="962.2" cy="659.11" r="1" stroke-width="0.8"/>
<circle cx="962.2" cy="712.81" r="1" stroke-width="0.8"/>
<rect x="180.7" y="556.5" width="366.4" height="30.7" stroke-width="1.1" fill="#fff"/>
<path d="M188.9,561.9 a3,3 0 1 0 6,0 a3,3 0 1 0 -6,0 M202.11,561.9 a3,3 0 1 0 6,0 a3,3 0 1 0 -6,0 M215.32,561.9 a3,3 0 1 0 6,0 a3,3 0 1 0 -6,0 M228.53,561.9 a3,3 0 1 0 6,0 a3,3 0 1 0 -6,0 M241.74,561.9 a3,3 0 1 0 6,0 a3,3 0 1 0 -6,0 M254.95,561.9 a3,3 0 1 0 6,0 a3,3 0 1 0 -6,0 M268.16,561.9 a3,3 0 1 0 6,0 a3,3 0 1 0 -6,0 M281.37,561.9 a3,3 0 1 0 6,0 a3,3 0 1 0 -6,0 M294.58,561.9 a3,3 0 1 0 6,0 a3,3 0 1 0 -6,0 M307.79,561.9 a3,3 0 1 0 6,0 a3,3 0 1 0 -6,0 M321,561.9 a3,3 0 1 0 6,0 a3,3 0 1 0 -6,0 M334.21,561.9 a3,3 0 1 0 6,0 a3,3 0 1 0 -6,0 M347.42,561.9 a3,3 0 1 0 6,0 a3,3 0 1 0 -6,0 M360.63,561.9 a3,3 0 1 0 6,0 a3,3 0 1 0 -6,0 M373.84,561.9 a3,3 0 1 0 6,0 a3,3 0 1 0 -6,0 M387.05,561.9 a3,3 0 1 0 6,0 a3,3 0 1 0 -6,0 M400.26,561.9 a3,3 0 1 0 6,0 a3,3 0 1 0 -6,0 M413.47,561.9 a3,3 0 1 0 6,0 a3,3 0 1 0 -6,0 M426.68,561.9 a3,3 0 1 0 6,0 a3,3 0 1 0 -6,0 M439.89,561.9 a3,3 0 1 0 6,0 a3,3 0 1 0 -6,0 M453.1,561.9 a3,3 0 1 0 6,0 a3,3 0 1 0 -6,0 M466.31,561.9 a3,3 0 1 0 6,0 a3,3 0 1 0 -6,0 M479.52,561.9 a3,3 0 1 0 6,0 a3,3 0 1 0 -6,0 M492.73,561.9 a3,3 0 1 0 6,0 a3,3 0 1 0 -6,0 M505.94,561.9 a3,3 0 1 0 6,0 a3,3 0 1 0 -6,0 M519.15,561.9 a3,3 0 1 0 6,0 a3,3 0 1 0 -6,0 M532.36,561.9 a3,3 0 1 0 6,0 a3,3 0 1 0 -6,0 M181.8,581.3 a3,3 0 1 0 6,0 a3,3 0 1 0 -6,0 M195.03,581.3 a3,3 0 1 0 6,0 a3,3 0 1 0 -6,0 M208.26,581.3 a3,3 0 1 0 6,0 a3,3 0 1 0 -6,0 M221.49,581.3 a3,3 0 1 0 6,0 a3,3 0 1 0 -6,0 M234.72,581.3 a3,3 0 1 0 6,0 a3,3 0 1 0 -6,0 M247.95,581.3 a3,3 0 1 0 6,0 a3,3 0 1 0 -6,0 M261.18,581.3 a3,3 0 1 0 6,0 a3,3 0 1 0 -6,0 M274.41,581.3 a3,3 0 1 0 6,0 a3,3 0 1 0 -6,0 M287.64,581.3 a3,3 0 1 0 6,0 a3,3 0 1 0 -6,0 M300.87,581.3 a3,3 0 1 0 6,0 a3,3 0 1 0 -6,0 M314.1,581.3 a3,3 0 1 0 6,0 a3,3 0 1 0 -6,0 M327.33,581.3 a3,3 0 1 0 6,0 a3,3 0 1 0 -6,0 M340.56,581.3 a3,3 0 1 0 6,0 a3,3 0 1 0 -6,0 M353.79,581.3 a3,3 0 1 0 6,0 a3,3 0 1 0 -6,0 M367.02,581.3 a3,3 0 1 0 6,0 a3,3 0 1 0 -6,0 M380.25,581.3 a3,3 0 1 0 6,0 a3,3 0 1 0 -6,0 M393.48,581.3 a3,3 0 1 0 6,0 a3,3 0 1 0 -6,0 M406.71,581.3 a3,3 0 1 0 6,0 a3,3 0 1 0 -6,0 M419.94,581.3 a3,3 0 1 0 6,0 a3,3 0 1 0 -6,0 M433.17,581.3 a3,3 0 1 0 6,0 a3,3 0 1 0 -6,0 M446.4,581.3 a3,3 0 1 0 6,0 a3,3 0 1 0 -6,0 M459.63,581.3 a3,3 0 1 0 6,0 a3,3 0 1 0 -6,0 M472.86,581.3 a3,3 0 1 0 6,0 a3,3 0 1 0 -6,0 M486.09,581.3 a3,3 0 1 0 6,0 a3,3 0 1 0 -6,0 M499.32,581.3 a3,3 0 1 0 6,0 a3,3 0 1 0 -6,0 M512.55,581.3 a3,3 0 1 0 6,0 a3,3 0 1 0 -6,0 M525.78,581.3 a3,3 0 1 0 6,0 a3,3 0 1 0 -6,0 M539.01,581.3 a3,3 0 1 0 6,0 a3,3 0 1 0 -6,0 " stroke-width="1.6" stroke-dasharray="3.4,1.31" stroke-dashoffset="1.7"/>
<circle cx="183.5" cy="571.7" r="1.2" stroke-width="0.7"/>
<circle cx="226.2" cy="571.7" r="1.2" stroke-width="0.7"/>
<circle cx="255.4" cy="571.7" r="1.2" stroke-width="0.7"/>
<circle cx="327.5" cy="571.7" r="1.2" stroke-width="0.7"/>
<circle cx="399.5" cy="571.7" r="1.2" stroke-width="0.7"/>
<circle cx="543.3" cy="571.7" r="1.2" stroke-width="0.7"/>
<circle cx="470.8" cy="571.7" r="1.5" stroke-width="1" fill="#333"/>
<line x1="277" y1="554.5" x2="440" y2="554.5" stroke-width="0.8"/>
<rect x="148.1" y="522.2" width="5.6" height="38.8" stroke-width="1" fill="#fff"/>
<line x1="154" y1="524" x2="154" y2="612" stroke-width="1.5"/>
<polyline points="154.5,556 157,560 157,608 155,612" stroke-width="0.8"/>
<rect x="146" y="563" width="8" height="13" stroke-width="0.8"/>
<polyline points="154,536 237.5,536 239.3,538 239.3,550.2 154,550.2" stroke-width="1" fill="#fff"/>
<polyline points="169.4,537.5 178.1,528.75 191.25,528.75 198.75,536.9" stroke-width="1"/>
<polyline points="175,537 180,532.5 190.6,532.5 194.4,537" stroke-width="1"/>
<ellipse cx="185" cy="536" rx="3.5" ry="1.4" stroke-width="1.3"/>
<ellipse cx="207" cy="536" rx="6" ry="1" stroke-width="1.6"/>
<circle cx="171.5" cy="537" r="1.6" stroke-width="1"/>
<circle cx="197" cy="537" r="1.6" stroke-width="1"/>
<circle cx="180.5" cy="544.5" r="1.2" stroke-width="0.8"/>
<line x1="180.6" y1="550.2" x2="190" y2="556.25" stroke-width="1"/>
<circle cx="236.25" cy="545" r="2" stroke-width="0.9" fill="#fff"/>
<path d="M238,544.2 L253,545.5 Q256,547 253,548 L238,546.5" stroke-width="0.8"/>
<circle cx="195" cy="553" r="1.1" stroke-width="0.7"/>
<circle cx="202" cy="553" r="1.1" stroke-width="0.7"/>
<circle cx="209" cy="553" r="1.1" stroke-width="0.7"/>
<circle cx="217" cy="553" r="1.1" stroke-width="0.7"/>
<circle cx="224" cy="553" r="1.1" stroke-width="0.7"/>
<circle cx="232" cy="553" r="1.1" stroke-width="0.7"/>
<rect x="148.1" y="810.8" width="5.6" height="38.8" stroke-width="1" fill="#fff"/>
<line x1="154" y1="847.8" x2="154" y2="810.8" stroke-width="1.5"/>
<polyline points="154,835.8 237.5,835.8 239.3,833.8 239.3,821.6 154,821.6" stroke-width="1" fill="#fff"/>
<polyline points="169.4,834.3 178.1,843.05 191.25,843.05 198.75,834.9" stroke-width="1"/>
<polyline points="175,834.8 180,839.3 190.6,839.3 194.4,834.8" stroke-width="1"/>
<ellipse cx="185" cy="835.8" rx="3.5" ry="1.4" stroke-width="1.3"/>
<ellipse cx="207" cy="835.8" rx="6" ry="1" stroke-width="1.6"/>
<circle cx="171.5" cy="834.8" r="1.6" stroke-width="1"/>
<circle cx="197" cy="834.8" r="1.6" stroke-width="1"/>
<circle cx="180.5" cy="827.3" r="1.2" stroke-width="0.8"/>
<line x1="180.6" y1="821.6" x2="190" y2="815.55" stroke-width="1"/>
<circle cx="236.25" cy="826.8" r="2" stroke-width="0.9" fill="#fff"/>
<path d="M238,827.6 L253,826.3 Q256,824.8 253,823.8 L238,825.3" stroke-width="0.8"/>
<circle cx="195" cy="818.8" r="1.1" stroke-width="0.7"/>
<circle cx="202" cy="818.8" r="1.1" stroke-width="0.7"/>
<circle cx="209" cy="818.8" r="1.1" stroke-width="0.7"/>
<circle cx="217" cy="818.8" r="1.1" stroke-width="0.7"/>
<circle cx="224" cy="818.8" r="1.1" stroke-width="0.7"/>
<circle cx="232" cy="818.8" r="1.1" stroke-width="0.7"/>
<rect x="240" y="601.1" width="7" height="45.4" stroke-width="0.9"/>
<rect x="172.4" y="726" width="7" height="27" stroke-width="0.9"/>
<rect x="533.7" y="623.3" width="7" height="27.7" stroke-width="0.9"/>
<rect x="466.1" y="718.7" width="7" height="28.7" stroke-width="0.9"/>
<rect x="172.4" y="618.7" width="7" height="27.8" stroke-width="0.9"/>
<rect x="240" y="726" width="7" height="43.6" stroke-width="0.9"/>
<rect x="466.1" y="623.3" width="7" height="27.7" stroke-width="0.9"/>
<rect x="533.7" y="718.7" width="7" height="28.7" stroke-width="0.9"/>
<g>
<path d="M159.7,646.5 A16.2,10.2 0 0 1 192.1,646.5 L192.1,655.5 A16.2,10.2 0 0 1 159.7,655.5 Z" stroke-width="0.9" fill="#fff"/>
<ellipse cx="175.9" cy="646.5" rx="16.2" ry="10.2" stroke-width="0.9" fill="#fff"/>
<ellipse cx="175.9" cy="646.5" rx="14.26" ry="8.98" stroke-width="0.6"/>
<path d="M184.81,646.5L189.67,646.5M184.45,648.08L189.11,648.94M183.4,649.53L187.48,651.19M181.73,650.74L184.92,653.05M179.6,651.6L181.62,654.39M177.17,652.05L177.86,655.08M174.63,652.05L173.94,655.08M172.2,651.6L170.18,654.39M170.07,650.74L166.88,653.05M168.4,649.53L164.32,651.19M167.35,648.08L162.69,648.94M166.99,646.5L162.13,646.5M167.35,644.92L162.69,644.06M168.4,643.47L164.32,641.81M170.07,642.26L166.88,639.95M172.2,641.4L170.18,638.61M174.63,640.95L173.94,637.92M177.17,640.95L177.86,637.92M179.6,641.4L181.62,638.61M181.73,642.26L184.92,639.95M183.4,643.47L187.48,641.81M184.45,644.92L189.11,644.06" stroke-width="0.7"/>
<ellipse cx="175.9" cy="646.5" rx="8.1" ry="5.1" stroke-width="1"/>
<ellipse cx="175.9" cy="646.5" rx="4.86" ry="3.06" stroke-width="0.8"/>
<ellipse cx="175.9" cy="646.5" rx="1.62" ry="1.02" stroke-width="1"/>
</g>
<g>
<path d="M159.7,618.7 A16.2,10.2 0 0 1 192.1,618.7 L192.1,627.7 A16.2,10.2 0 0 1 159.7,627.7 Z" stroke-width="0.9" fill="#fff"/>
<ellipse cx="175.9" cy="618.7" rx="16.2" ry="10.2" stroke-width="0.9" fill="#fff"/>
<ellipse cx="175.9" cy="618.7" rx="14.26" ry="8.98" stroke-width="0.6"/>
<path d="M184.81,618.7L189.67,618.7M184.45,620.28L189.11,621.14M183.4,621.73L187.48,623.39M181.73,622.94L184.92,625.25M179.6,623.8L181.62,626.59M177.17,624.25L177.86,627.28M174.63,624.25L173.94,627.28M172.2,623.8L170.18,626.59M170.07,622.94L166.88,625.25M168.4,621.73L164.32,623.39M167.35,620.28L162.69,621.14M166.99,618.7L162.13,618.7M167.35,617.12L162.69,616.26M168.4,615.67L164.32,614.01M170.07,614.46L166.88,612.15M172.2,613.6L170.18,610.81M174.63,613.15L173.94,610.12M177.17,613.15L177.86,610.12M179.6,613.6L181.62,610.81M181.73,614.46L184.92,612.15M183.4,615.67L187.48,614.01M184.45,617.12L189.11,616.26" stroke-width="0.7"/>
<ellipse cx="175.9" cy="618.7" rx="8.1" ry="5.1" stroke-width="1"/>
<ellipse cx="175.9" cy="618.7" rx="4.86" ry="3.06" stroke-width="0.8"/>
<ellipse cx="175.9" cy="618.7" rx="1.62" ry="1.02" stroke-width="1"/>
</g>
<g>
<path d="M227.3,646.5 A16.2,10.2 0 0 1 259.7,646.5 L259.7,655.5 A16.2,10.2 0 0 1 227.3,655.5 Z" stroke-width="0.9" fill="#fff"/>
<ellipse cx="243.5" cy="646.5" rx="16.2" ry="10.2" stroke-width="0.9" fill="#fff"/>
<ellipse cx="243.5" cy="646.5" rx="14.26" ry="8.98" stroke-width="0.6"/>
<path d="M252.41,646.5L257.27,646.5M252.05,648.08L256.71,648.94M251,649.53L255.08,651.19M249.33,650.74L252.52,653.05M247.2,651.6L249.22,654.39M244.77,652.05L245.46,655.08M242.23,652.05L241.54,655.08M239.8,651.6L237.78,654.39M237.67,650.74L234.48,653.05M236,649.53L231.92,651.19M234.95,648.08L230.29,648.94M234.59,646.5L229.73,646.5M234.95,644.92L230.29,644.06M236,643.47L231.92,641.81M237.67,642.26L234.48,639.95M239.8,641.4L237.78,638.61M242.23,640.95L241.54,637.92M244.77,640.95L245.46,637.92M247.2,641.4L249.22,638.61M249.33,642.26L252.52,639.95M251,643.47L255.08,641.81M252.05,644.92L256.71,644.06" stroke-width="0.7"/>
<ellipse cx="243.5" cy="646.5" rx="8.1" ry="5.1" stroke-width="1"/>
<ellipse cx="243.5" cy="646.5" rx="4.86" ry="3.06" stroke-width="0.8"/>
<ellipse cx="243.5" cy="646.5" rx="1.62" ry="1.02" stroke-width="1"/>
</g>
<g>
<path d="M227.3,601.1 A16.2,10.2 0 0 1 259.7,601.1 L259.7,610.1 A16.2,10.2 0 0 1 227.3,610.1 Z" stroke-width="0.9" fill="#fff"/>
<ellipse cx="243.5" cy="601.1" rx="16.2" ry="10.2" stroke-width="0.9" fill="#fff"/>
<ellipse cx="243.5" cy="601.1" rx="14.26" ry="8.98" stroke-width="0.6"/>
<path d="M252.41,601.1L257.27,601.1M252.05,602.68L256.71,603.54M251,604.13L255.08,605.79M249.33,605.34L252.52,607.65M247.2,606.2L249.22,608.99M244.77,606.65L245.46,609.68M242.23,606.65L241.54,609.68M239.8,606.2L237.78,608.99M237.67,605.34L234.48,607.65M236,604.13L231.92,605.79M234.95,602.68L230.29,603.54M234.59,601.1L229.73,601.1M234.95,599.52L230.29,598.66M236,598.07L231.92,596.41M237.67,596.86L234.48,594.55M239.8,596L237.78,593.21M242.23,595.55L241.54,592.52M244.77,595.55L245.46,592.52M247.2,596L249.22,593.21M249.33,596.86L252.52,594.55M251,598.07L255.08,596.41M252.05,599.52L256.71,598.66" stroke-width="0.7"/>
<ellipse cx="243.5" cy="601.1" rx="8.1" ry="5.1" stroke-width="1"/>
<ellipse cx="243.5" cy="601.1" rx="4.86" ry="3.06" stroke-width="0.8"/>
<ellipse cx="243.5" cy="601.1" rx="1.62" ry="1.02" stroke-width="1"/>
</g>
<g>
<path d="M159.7,726 A16.2,10.2 0 0 0 192.1,726 L192.1,717 A16.2,10.2 0 0 0 159.7,717 Z" stroke-width="0.9" fill="#fff"/>
<ellipse cx="175.9" cy="726" rx="16.2" ry="10.2" stroke-width="0.9" fill="#fff"/>
<ellipse cx="175.9" cy="726" rx="14.26" ry="8.98" stroke-width="0.6"/>
<path d="M184.81,726L189.67,726M184.45,727.58L189.11,728.44M183.4,729.03L187.48,730.69M181.73,730.24L184.92,732.55M179.6,731.1L181.62,733.89M177.17,731.55L177.86,734.58M174.63,731.55L173.94,734.58M172.2,731.1L170.18,733.89M170.07,730.24L166.88,732.55M168.4,729.03L164.32,730.69M167.35,727.58L162.69,728.44M166.99,726L162.13,726M167.35,724.42L162.69,723.56M168.4,722.97L164.32,721.31M170.07,721.76L166.88,719.45M172.2,720.9L170.18,718.11M174.63,720.45L173.94,717.42M177.17,720.45L177.86,717.42M179.6,720.9L181.62,718.11M181.73,721.76L184.92,719.45M183.4,722.97L187.48,721.31M184.45,724.42L189.11,723.56" stroke-width="0.7"/>
<ellipse cx="175.9" cy="726" rx="8.1" ry="5.1" stroke-width="1"/>
<ellipse cx="175.9" cy="726" rx="4.86" ry="3.06" stroke-width="0.8"/>
<ellipse cx="175.9" cy="726" rx="1.62" ry="1.02" stroke-width="1"/>
</g>
<g>
<path d="M159.7,753 A16.2,10.2 0 0 0 192.1,753 L192.1,744 A16.2,10.2 0 0 0 159.7,744 Z" stroke-width="0.9" fill="#fff"/>
<ellipse cx="175.9" cy="753" rx="16.2" ry="10.2" stroke-width="0.9" fill="#fff"/>
<ellipse cx="175.9" cy="753" rx="14.26" ry="8.98" stroke-width="0.6"/>
<path d="M184.81,753L189.67,753M184.45,754.58L189.11,755.44M183.4,756.03L187.48,757.69M181.73,757.24L184.92,759.55M179.6,758.1L181.62,760.89M177.17,758.55L177.86,761.58M174.63,758.55L173.94,761.58M172.2,758.1L170.18,760.89M170.07,757.24L166.88,759.55M168.4,756.03L164.32,757.69M167.35,754.58L162.69,755.44M166.99,753L162.13,753M167.35,751.42L162.69,750.56M168.4,749.97L164.32,748.31M170.07,748.76L166.88,746.45M172.2,747.9L170.18,745.11M174.63,747.45L173.94,744.42M177.17,747.45L177.86,744.42M179.6,747.9L181.62,745.11M181.73,748.76L184.92,746.45M183.4,749.97L187.48,748.31M184.45,751.42L189.11,750.56" stroke-width="0.7"/>
<ellipse cx="175.9" cy="753" rx="8.1" ry="5.1" stroke-width="1"/>
<ellipse cx="175.9" cy="753" rx="4.86" ry="3.06" stroke-width="0.8"/>
<ellipse cx="175.9" cy="753" rx="1.62" ry="1.02" stroke-width="1"/>
</g>
<g>
<path d="M227.3,726 A16.2,10.2 0 0 0 259.7,726 L259.7,717 A16.2,10.2 0 0 0 227.3,717 Z" stroke-width="0.9" fill="#fff"/>
<ellipse cx="243.5" cy="726" rx="16.2" ry="10.2" stroke-width="0.9" fill="#fff"/>
<ellipse cx="243.5" cy="726" rx="14.26" ry="8.98" stroke-width="0.6"/>
<path d="M252.41,726L257.27,726M252.05,727.58L256.71,728.44M251,729.03L255.08,730.69M249.33,730.24L252.52,732.55M247.2,731.1L249.22,733.89M244.77,731.55L245.46,734.58M242.23,731.55L241.54,734.58M239.8,731.1L237.78,733.89M237.67,730.24L234.48,732.55M236,729.03L231.92,730.69M234.95,727.58L230.29,728.44M234.59,726L229.73,726M234.95,724.42L230.29,723.56M236,722.97L231.92,721.31M237.67,721.76L234.48,719.45M239.8,720.9L237.78,718.11M242.23,720.45L241.54,717.42M244.77,720.45L245.46,717.42M247.2,720.9L249.22,718.11M249.33,721.76L252.52,719.45M251,722.97L255.08,721.31M252.05,724.42L256.71,723.56" stroke-width="0.7"/>
<ellipse cx="243.5" cy="726" rx="8.1" ry="5.1" stroke-width="1"/>
<ellipse cx="243.5" cy="726" rx="4.86" ry="3.06" stroke-width="0.8"/>
<ellipse cx="243.5" cy="726" rx="1.62" ry="1.02" stroke-width="1"/>
</g>
<g>
<path d="M227.3,769.6 A16.2,10.2 0 0 0 259.7,769.6 L259.7,760.6 A16.2,10.2 0 0 0 227.3,760.6 Z" stroke-width="0.9" fill="#fff"/>
<ellipse cx="243.5" cy="769.6" rx="16.2" ry="10.2" stroke-width="0.9" fill="#fff"/>
<ellipse cx="243.5" cy="769.6" rx="14.26" ry="8.98" stroke-width="0.6"/>
<path d="M252.41,769.6L257.27,769.6M252.05,771.18L256.71,772.04M251,772.63L255.08,774.29M249.33,773.84L252.52,776.15M247.2,774.7L249.22,777.49M244.77,775.15L245.46,778.18M242.23,775.15L241.54,778.18M239.8,774.7L237.78,777.49M237.67,773.84L234.48,776.15M236,772.63L231.92,774.29M234.95,771.18L230.29,772.04M234.59,769.6L229.73,769.6M234.95,768.02L230.29,767.16M236,766.57L231.92,764.91M237.67,765.36L234.48,763.05M239.8,764.5L237.78,761.71M242.23,764.05L241.54,761.02M244.77,764.05L245.46,761.02M247.2,764.5L249.22,761.71M249.33,765.36L252.52,763.05M251,766.57L255.08,764.91M252.05,768.02L256.71,767.16" stroke-width="0.7"/>
<ellipse cx="243.5" cy="769.6" rx="8.1" ry="5.1" stroke-width="1"/>
<ellipse cx="243.5" cy="769.6" rx="4.86" ry="3.06" stroke-width="0.8"/>
<ellipse cx="243.5" cy="769.6" rx="1.62" ry="1.02" stroke-width="1"/>
</g>
<g>
<path d="M453.4,651 A16.2,10.2 0 0 1 485.8,651 L485.8,660 A16.2,10.2 0 0 1 453.4,660 Z" stroke-width="0.9" fill="#fff"/>
<ellipse cx="469.6" cy="651" rx="16.2" ry="10.2" stroke-width="0.9" fill="#fff"/>
<ellipse cx="469.6" cy="651" rx="14.26" ry="8.98" stroke-width="0.6"/>
<path d="M478.51,651L483.37,651M478.15,652.58L482.81,653.44M477.1,654.03L481.18,655.69M475.43,655.24L478.62,657.55M473.3,656.1L475.32,658.89M470.87,656.55L471.56,659.58M468.33,656.55L467.64,659.58M465.9,656.1L463.88,658.89M463.77,655.24L460.58,657.55M462.1,654.03L458.02,655.69M461.05,652.58L456.39,653.44M460.69,651L455.83,651M461.05,649.42L456.39,648.56M462.1,647.97L458.02,646.31M463.77,646.76L460.58,644.45M465.9,645.9L463.88,643.11M468.33,645.45L467.64,642.42M470.87,645.45L471.56,642.42M473.3,645.9L475.32,643.11M475.43,646.76L478.62,644.45M477.1,647.97L481.18,646.31M478.15,649.42L482.81,648.56" stroke-width="0.7"/>
<ellipse cx="469.6" cy="651" rx="8.1" ry="5.1" stroke-width="1"/>
<ellipse cx="469.6" cy="651" rx="4.86" ry="3.06" stroke-width="0.8"/>
<ellipse cx="469.6" cy="651" rx="1.62" ry="1.02" stroke-width="1"/>
</g>
<g>
<path d="M453.4,623.3 A16.2,10.2 0 0 1 485.8,623.3 L485.8,632.3 A16.2,10.2 0 0 1 453.4,632.3 Z" stroke-width="0.9" fill="#fff"/>
<ellipse cx="469.6" cy="623.3" rx="16.2" ry="10.2" stroke-width="0.9" fill="#fff"/>
<ellipse cx="469.6" cy="623.3" rx="14.26" ry="8.98" stroke-width="0.6"/>
<path d="M478.51,623.3L483.37,623.3M478.15,624.88L482.81,625.74M477.1,626.33L481.18,627.99M475.43,627.54L478.62,629.85M473.3,628.4L475.32,631.19M470.87,628.85L471.56,631.88M468.33,628.85L467.64,631.88M465.9,628.4L463.88,631.19M463.77,627.54L460.58,629.85M462.1,626.33L458.02,627.99M461.05,624.88L456.39,625.74M460.69,623.3L455.83,623.3M461.05,621.72L456.39,620.86M462.1,620.27L458.02,618.61M463.77,619.06L460.58,616.75M465.9,618.2L463.88,615.41M468.33,617.75L467.64,614.72M470.87,617.75L471.56,614.72M473.3,618.2L475.32,615.41M475.43,619.06L478.62,616.75M477.1,620.27L481.18,618.61M478.15,621.72L482.81,620.86" stroke-width="0.7"/>
<ellipse cx="469.6" cy="623.3" rx="8.1" ry="5.1" stroke-width="1"/>
<ellipse cx="469.6" cy="623.3" rx="4.86" ry="3.06" stroke-width="0.8"/>
<ellipse cx="469.6" cy="623.3" rx="1.62" ry="1.02" stroke-width="1"/>
</g>
<g>
<path d="M521,651 A16.2,10.2 0 0 1 553.4,651 L553.4,660 A16.2,10.2 0 0 1 521,660 Z" stroke-width="0.9" fill="#fff"/>
<ellipse cx="537.2" cy="651" rx="16.2" ry="10.2" stroke-width="0.9" fill="#fff"/>
<ellipse cx="537.2" cy="651" rx="14.26" ry="8.98" stroke-width="0.6"/>
<path d="M546.11,651L550.97,651M545.75,652.58L550.41,653.44M544.7,654.03L548.78,655.69M543.03,655.24L546.22,657.55M540.9,656.1L542.92,658.89M538.47,656.55L539.16,659.58M535.93,656.55L535.24,659.58M533.5,656.1L531.48,658.89M531.37,655.24L528.18,657.55M529.7,654.03L525.62,655.69M528.65,652.58L523.99,653.44M528.29,651L523.43,651M528.65,649.42L523.99,648.56M529.7,647.97L525.62,646.31M531.37,646.76L528.18,644.45M533.5,645.9L531.48,643.11M535.93,645.45L535.24,642.42M538.47,645.45L539.16,642.42M540.9,645.9L542.92,643.11M543.03,646.76L546.22,644.45M544.7,647.97L548.78,646.31M545.75,649.42L550.41,648.56" stroke-width="0.7"/>
<ellipse cx="537.2" cy="651" rx="8.1" ry="5.1" stroke-width="1"/>
<ellipse cx="537.2" cy="651" rx="4.86" ry="3.06" stroke-width="0.8"/>
<ellipse cx="537.2" cy="651" rx="1.62" ry="1.02" stroke-width="1"/>
</g>
<g>
<path d="M521,623.3 A16.2,10.2 0 0 1 553.4,623.3 L553.4,632.3 A16.2,10.2 0 0 1 521,632.3 Z" stroke-width="0.9" fill="#fff"/>
<ellipse cx="537.2" cy="623.3" rx="16.2" ry="10.2" stroke-width="0.9" fill="#fff"/>
<ellipse cx="537.2" cy="623.3" rx="14.26" ry="8.98" stroke-width="0.6"/>
<path d="M546.11,623.3L550.97,623.3M545.75,624.88L550.41,625.74M544.7,626.33L548.78,627.99M543.03,627.54L546.22,629.85M540.9,628.4L542.92,631.19M538.47,628.85L539.16,631.88M535.93,628.85L535.24,631.88M533.5,628.4L531.48,631.19M531.37,627.54L528.18,629.85M529.7,626.33L525.62,627.99M528.65,624.88L523.99,625.74M528.29,623.3L523.43,623.3M528.65,621.72L523.99,620.86M529.7,620.27L525.62,618.61M531.37,619.06L528.18,616.75M533.5,618.2L531.48,615.41M535.93,617.75L535.24,614.72M538.47,617.75L539.16,614.72M540.9,618.2L542.92,615.41M543.03,619.06L546.22,616.75M544.7,620.27L548.78,618.61M545.75,621.72L550.41,620.86" stroke-width="0.7"/>
<ellipse cx="537.2" cy="623.3" rx="8.1" ry="5.1" stroke-width="1"/>
<ellipse cx="537.2" cy="623.3" rx="4.86" ry="3.06" stroke-width="0.8"/>
<ellipse cx="537.2" cy="623.3" rx="1.62" ry="1.02" stroke-width="1"/>
</g>
<g>
<path d="M453.4,718.7 A16.2,10.2 0 0 0 485.8,718.7 L485.8,709.7 A16.2,10.2 0 0 0 453.4,709.7 Z" stroke-width="0.9" fill="#fff"/>
<ellipse cx="469.6" cy="718.7" rx="16.2" ry="10.2" stroke-width="0.9" fill="#fff"/>
<ellipse cx="469.6" cy="718.7" rx="14.26" ry="8.98" stroke-width="0.6"/>
<path d="M478.51,718.7L483.37,718.7M478.15,720.28L482.81,721.14M477.1,721.73L481.18,723.39M475.43,722.94L478.62,725.25M473.3,723.8L475.32,726.59M470.87,724.25L471.56,727.28M468.33,724.25L467.64,727.28M465.9,723.8L463.88,726.59M463.77,722.94L460.58,725.25M462.1,721.73L458.02,723.39M461.05,720.28L456.39,721.14M460.69,718.7L455.83,718.7M461.05,717.12L456.39,716.26M462.1,715.67L458.02,714.01M463.77,714.46L460.58,712.15M465.9,713.6L463.88,710.81M468.33,713.15L467.64,710.12M470.87,713.15L471.56,710.12M473.3,713.6L475.32,710.81M475.43,714.46L478.62,712.15M477.1,715.67L481.18,714.01M478.15,717.12L482.81,716.26" stroke-width="0.7"/>
<ellipse cx="469.6" cy="718.7" rx="8.1" ry="5.1" stroke-width="1"/>
<ellipse cx="469.6" cy="718.7" rx="4.86" ry="3.06" stroke-width="0.8"/>
<ellipse cx="469.6" cy="718.7" rx="1.62" ry="1.02" stroke-width="1"/>
</g>
<g>
<path d="M453.4,747.4 A16.2,10.2 0 0 0 485.8,747.4 L485.8,738.4 A16.2,10.2 0 0 0 453.4,738.4 Z" stroke-width="0.9" fill="#fff"/>
<ellipse cx="469.6" cy="747.4" rx="16.2" ry="10.2" stroke-width="0.9" fill="#fff"/>
<ellipse cx="469.6" cy="747.4" rx="14.26" ry="8.98" stroke-width="0.6"/>
<path d="M478.51,747.4L483.37,747.4M478.15,748.98L482.81,749.84M477.1,750.43L481.18,752.09M475.43,751.64L478.62,753.95M473.3,752.5L475.32,755.29M470.87,752.95L471.56,755.98M468.33,752.95L467.64,755.98M465.9,752.5L463.88,755.29M463.77,751.64L460.58,753.95M462.1,750.43L458.02,752.09M461.05,748.98L456.39,749.84M460.69,747.4L455.83,747.4M461.05,745.82L456.39,744.96M462.1,744.37L458.02,742.71M463.77,743.16L460.58,740.85M465.9,742.3L463.88,739.51M468.33,741.85L467.64,738.82M470.87,741.85L471.56,738.82M473.3,742.3L475.32,739.51M475.43,743.16L478.62,740.85M477.1,744.37L481.18,742.71M478.15,745.82L482.81,744.96" stroke-width="0.7"/>
<ellipse cx="469.6" cy="747.4" rx="8.1" ry="5.1" stroke-width="1"/>
<ellipse cx="469.6" cy="747.4" rx="4.86" ry="3.06" stroke-width="0.8"/>
<ellipse cx="469.6" cy="747.4" rx="1.62" ry="1.02" stroke-width="1"/>
</g>
<g>
<path d="M521,718.7 A16.2,10.2 0 0 0 553.4,718.7 L553.4,709.7 A16.2,10.2 0 0 0 521,709.7 Z" stroke-width="0.9" fill="#fff"/>
<ellipse cx="537.2" cy="718.7" rx="16.2" ry="10.2" stroke-width="0.9" fill="#fff"/>
<ellipse cx="537.2" cy="718.7" rx="14.26" ry="8.98" stroke-width="0.6"/>
<path d="M546.11,718.7L550.97,718.7M545.75,720.28L550.41,721.14M544.7,721.73L548.78,723.39M543.03,722.94L546.22,725.25M540.9,723.8L542.92,726.59M538.47,724.25L539.16,727.28M535.93,724.25L535.24,727.28M533.5,723.8L531.48,726.59M531.37,722.94L528.18,725.25M529.7,721.73L525.62,723.39M528.65,720.28L523.99,721.14M528.29,718.7L523.43,718.7M528.65,717.12L523.99,716.26M529.7,715.67L525.62,714.01M531.37,714.46L528.18,712.15M533.5,713.6L531.48,710.81M535.93,713.15L535.24,710.12M538.47,713.15L539.16,710.12M540.9,713.6L542.92,710.81M543.03,714.46L546.22,712.15M544.7,715.67L548.78,714.01M545.75,717.12L550.41,716.26" stroke-width="0.7"/>
<ellipse cx="537.2" cy="718.7" rx="8.1" ry="5.1" stroke-width="1"/>
<ellipse cx="537.2" cy="718.7" rx="4.86" ry="3.06" stroke-width="0.8"/>
<ellipse cx="537.2" cy="718.7" rx="1.62" ry="1.02" stroke-width="1"/>
</g>
<g>
<path d="M521,747.4 A16.2,10.2 0 0 0 553.4,747.4 L553.4,738.4 A16.2,10.2 0 0 0 521,738.4 Z" stroke-width="0.9" fill="#fff"/>
<ellipse cx="537.2" cy="747.4" rx="16.2" ry="10.2" stroke-width="0.9" fill="#fff"/>
<ellipse cx="537.2" cy="747.4" rx="14.26" ry="8.98" stroke-width="0.6"/>
<path d="M546.11,747.4L550.97,747.4M545.75,748.98L550.41,749.84M544.7,750.43L548.78,752.09M543.03,751.64L546.22,753.95M540.9,752.5L542.92,755.29M538.47,752.95L539.16,755.98M535.93,752.95L535.24,755.98M533.5,752.5L531.48,755.29M531.37,751.64L528.18,753.95M529.7,750.43L525.62,752.09M528.65,748.98L523.99,749.84M528.29,747.4L523.43,747.4M528.65,745.82L523.99,744.96M529.7,744.37L525.62,742.71M531.37,743.16L528.18,740.85M533.5,742.3L531.48,739.51M535.93,741.85L535.24,738.82M538.47,741.85L539.16,738.82M540.9,742.3L542.92,739.51M543.03,743.16L546.22,740.85M544.7,744.37L548.78,742.71M545.75,745.82L550.41,744.96" stroke-width="0.7"/>
<ellipse cx="537.2" cy="747.4" rx="8.1" ry="5.1" stroke-width="1"/>
<ellipse cx="537.2" cy="747.4" rx="4.86" ry="3.06" stroke-width="0.8"/>
<ellipse cx="537.2" cy="747.4" rx="1.62" ry="1.02" stroke-width="1"/>
</g>
<rect x="192.6" y="620.6" width="48.1" height="8.3" stroke-width="1" fill="#fff"/>
<line x1="195.6" y1="621.1" x2="237.7" y2="621.1" stroke-width="1.6"/>
<rect x="201.9" y="609.4" width="15.7" height="26" stroke-width="1" fill="#fff"/>
<line x1="201.9" y1="620.6" x2="217.6" y2="620.6" stroke-width="0.8"/>
<line x1="201.9" y1="628.9" x2="217.6" y2="628.9" stroke-width="0.8"/>
<circle cx="205.4" cy="613.9" r="1.6" stroke-width="0.8"/>
<circle cx="214.1" cy="613.9" r="1.6" stroke-width="0.8"/>
<circle cx="205.4" cy="630.9" r="1.6" stroke-width="0.8"/>
<circle cx="214.1" cy="630.9" r="1.6" stroke-width="0.8"/>
<rect x="192.6" y="743.7" width="48.1" height="7.4" stroke-width="1" fill="#fff"/>
<line x1="195.6" y1="744.2" x2="237.7" y2="744.2" stroke-width="1.6"/>
<rect x="201.9" y="736.3" width="15.7" height="25.9" stroke-width="1" fill="#fff"/>
<line x1="201.9" y1="743.7" x2="217.6" y2="743.7" stroke-width="0.8"/>
<line x1="201.9" y1="751.1" x2="217.6" y2="751.1" stroke-width="0.8"/>
<circle cx="205.4" cy="740.8" r="1.6" stroke-width="0.8"/>
<circle cx="214.1" cy="740.8" r="1.6" stroke-width="0.8"/>
<circle cx="205.4" cy="757.7" r="1.6" stroke-width="0.8"/>
<circle cx="214.1" cy="757.7" r="1.6" stroke-width="0.8"/>
<rect x="486.3" y="625" width="35.2" height="8.5" stroke-width="1" fill="#fff"/>
<line x1="489.3" y1="625.5" x2="518.5" y2="625.5" stroke-width="1.6"/>
<rect x="496.5" y="614" width="14.8" height="26" stroke-width="1" fill="#fff"/>
<line x1="496.5" y1="625" x2="511.3" y2="625" stroke-width="0.8"/>
<line x1="496.5" y1="633.5" x2="511.3" y2="633.5" stroke-width="0.8"/>
<circle cx="500" cy="618.5" r="1.6" stroke-width="0.8"/>
<circle cx="507.8" cy="618.5" r="1.6" stroke-width="0.8"/>
<circle cx="500" cy="635.5" r="1.6" stroke-width="0.8"/>
<circle cx="507.8" cy="635.5" r="1.6" stroke-width="0.8"/>
<rect x="486.3" y="738" width="35.2" height="8.5" stroke-width="1" fill="#fff"/>
<line x1="489.3" y1="738.5" x2="518.5" y2="738.5" stroke-width="1.6"/>
<rect x="496.5" y="730.7" width="14.8" height="26.9" stroke-width="1" fill="#fff"/>
<line x1="496.5" y1="738" x2="511.3" y2="738" stroke-width="0.8"/>
<line x1="496.5" y1="746.5" x2="511.3" y2="746.5" stroke-width="0.8"/>
<circle cx="500" cy="735.2" r="1.6" stroke-width="0.8"/>
<circle cx="507.8" cy="735.2" r="1.6" stroke-width="0.8"/>
<circle cx="500" cy="753.1" r="1.6" stroke-width="0.8"/>
<circle cx="507.8" cy="753.1" r="1.6" stroke-width="0.8"/>
<line x1="933.3" y1="651.1" x2="933.3" y2="718.9" stroke-width="1"/>
<line x1="943.3" y1="653.3" x2="943.3" y2="717.8" stroke-width="1"/>
<line x1="507.6" y1="680.7" x2="862" y2="680.7" stroke-width="1"/>
<line x1="507.6" y1="691" x2="862" y2="691" stroke-width="1"/>
<polyline points="500.2,676 500.2,695.5" stroke-width="1.2"/>
<polyline points="507.6,683 511,686 507.6,689" stroke-width="0.8"/>
<rect x="660.7" y="667" width="92.5" height="38" stroke-width="1" fill="#fff"/>
<circle cx="707.4" cy="678" r="1.4" stroke-width="0.7"/>
<circle cx="707.4" cy="692.6" r="1.4" stroke-width="0.7"/>
<path d="M665.1,671.1 a2.5,2.5 0 1 0 5,0 a2.5,2.5 0 1 0 -5,0 M678.1,671.1 a2.5,2.5 0 1 0 5,0 a2.5,2.5 0 1 0 -5,0 M691.1,671.1 a2.5,2.5 0 1 0 5,0 a2.5,2.5 0 1 0 -5,0 M704.1,671.1 a2.5,2.5 0 1 0 5,0 a2.5,2.5 0 1 0 -5,0 M717.1,671.1 a2.5,2.5 0 1 0 5,0 a2.5,2.5 0 1 0 -5,0 M730.1,671.1 a2.5,2.5 0 1 0 5,0 a2.5,2.5 0 1 0 -5,0 M743.1,671.1 a2.5,2.5 0 1 0 5,0 a2.5,2.5 0 1 0 -5,0 M671.6,678 a2.5,2.5 0 1 0 5,0 a2.5,2.5 0 1 0 -5,0 M684.6,678 a2.5,2.5 0 1 0 5,0 a2.5,2.5 0 1 0 -5,0 M697.6,678 a2.5,2.5 0 1 0 5,0 a2.5,2.5 0 1 0 -5,0 M710.6,678 a2.5,2.5 0 1 0 5,0 a2.5,2.5 0 1 0 -5,0 M723.6,678 a2.5,2.5 0 1 0 5,0 a2.5,2.5 0 1 0 -5,0 M736.6,678 a2.5,2.5 0 1 0 5,0 a2.5,2.5 0 1 0 -5,0 M665.1,685.5 a2.5,2.5 0 1 0 5,0 a2.5,2.5 0 1 0 -5,0 M678.1,685.5 a2.5,2.5 0 1 0 5,0 a2.5,2.5 0 1 0 -5,0 M691.1,685.5 a2.5,2.5 0 1 0 5,0 a2.5,2.5 0 1 0 -5,0 M717.1,685.5 a2.5,2.5 0 1 0 5,0 a2.5,2.5 0 1 0 -5,0 M730.1,685.5 a2.5,2.5 0 1 0 5,0 a2.5,2.5 0 1 0 -5,0 M743.1,685.5 a2.5,2.5 0 1 0 5,0 a2.5,2.5 0 1 0 -5,0 M671.6,692.6 a2.5,2.5 0 1 0 5,0 a2.5,2.5 0 1 0 -5,0 M684.6,692.6 a2.5,2.5 0 1 0 5,0 a2.5,2.5 0 1 0 -5,0 M697.6,692.6 a2.5,2.5 0 1 0 5,0 a2.5,2.5 0 1 0 -5,0 M710.6,692.6 a2.5,2.5 0 1 0 5,0 a2.5,2.5 0 1 0 -5,0 M723.6,692.6 a2.5,2.5 0 1 0 5,0 a2.5,2.5 0 1 0 -5,0 M736.6,692.6 a2.5,2.5 0 1 0 5,0 a2.5,2.5 0 1 0 -5,0 M665.1,699.5 a2.5,2.5 0 1 0 5,0 a2.5,2.5 0 1 0 -5,0 M678.1,699.5 a2.5,2.5 0 1 0 5,0 a2.5,2.5 0 1 0 -5,0 M691.1,699.5 a2.5,2.5 0 1 0 5,0 a2.5,2.5 0 1 0 -5,0 M704.1,699.5 a2.5,2.5 0 1 0 5,0 a2.5,2.5 0 1 0 -5,0 M717.1,699.5 a2.5,2.5 0 1 0 5,0 a2.5,2.5 0 1 0 -5,0 M730.1,699.5 a2.5,2.5 0 1 0 5,0 a2.5,2.5 0 1 0 -5,0 M743.1,699.5 a2.5,2.5 0 1 0 5,0 a2.5,2.5 0 1 0 -5,0 " stroke-width="1.4" stroke-dasharray="2.8,1.13" stroke-dashoffset="1.4"/>
<polygon points="862,673.5 866.5,673.5 876.5,685.6 866.5,697.8 862,697.8 871.5,685.6" stroke-width="1" fill="#fff"/>
<rect x="872.2" y="678.9" width="75.6" height="15.5" stroke-width="1" fill="#fff"/>
<line x1="872.6" y1="678.9" x2="872.6" y2="694.4" stroke-width="1.8"/>
<rect x="907.2" y="681.1" width="4.6" height="10" stroke-width="1"/>
<rect x="911.8" y="681.1" width="4.9" height="10" stroke-width="1"/>
<circle cx="919.4" cy="683.3" r="0.8" stroke-width="0.6"/>
<circle cx="925.6" cy="683.3" r="0.8" stroke-width="0.6"/>
<circle cx="919.4" cy="689.4" r="0.8" stroke-width="0.6"/>
<circle cx="925.6" cy="689.4" r="0.8" stroke-width="0.6"/>
<path d="M871.8,694.4 L872.1,696.5 L873.3,697.2 L874.5,696.5 L874.8,694.4" stroke-width="1"/>
<path d="M892.9,694.4 L893.2,696.5 L894.4,697.2 L895.6,696.5 L895.9,694.4" stroke-width="1"/>
<path d="M910.7,694.4 L911,696.5 L912.2,697.2 L913.4,696.5 L913.7,694.4" stroke-width="1"/>
<circle cx="921.7" cy="695.5" r="1" stroke-width="0.8"/>
<line x1="871.5" y1="678.9" x2="874.5" y2="678.9" stroke-width="1.6"/>
<line x1="887.5" y1="678.9" x2="890.5" y2="678.9" stroke-width="1.6"/>
<line x1="910.5" y1="678.9" x2="913.5" y2="678.9" stroke-width="1.6"/>
<rect x="947.8" y="676.7" width="35.5" height="21.6" stroke-width="1" fill="#fff" rx="1.5"/>
<line x1="948" y1="678.3" x2="983" y2="678.3" stroke-width="0.7"/>
<line x1="950" y1="682.2" x2="972" y2="682.2" stroke-width="0.7"/>
<line x1="950" y1="693.3" x2="972" y2="693.3" stroke-width="0.7"/>
<line x1="948" y1="695.6" x2="983" y2="695.6" stroke-width="1.3"/>
<line x1="958.9" y1="682.2" x2="958.9" y2="693.3" stroke-width="0.7"/>
<line x1="963.9" y1="682.2" x2="963.9" y2="693.3" stroke-width="0.7"/>
<rect x="975.6" y="676" width="3.8" height="22.9" stroke-width="1"/>
<rect x="975.6" y="655.6" width="3.8" height="20.4" stroke-width="0.9" rx="1.9"/>
<line x1="981" y1="677" x2="981" y2="698" stroke-width="0.7"/>
<path d="M984.2,682 L988,686 L984.2,690" stroke-width="0.8"/>
<line x1="984.2" y1="688" x2="1002.3" y2="688" stroke-width="0.8"/>
<line x1="984.2" y1="692" x2="1002.3" y2="692" stroke-width="0.8"/>
<rect x="1002.3" y="680" width="52.3" height="12" stroke-width="1" fill="#fff"/>
<rect x="1054.6" y="672.7" width="9.1" height="22.3" stroke-width="1" fill="#fff"/>
<circle cx="1059" cy="676.5" r="1.6" stroke-width="0.9"/>
<ellipse cx="1059" cy="686" rx="2.2" ry="1.2" stroke-width="0.8"/>
<ellipse cx="1066.8" cy="685.6" rx="3" ry="8" stroke-width="0.8"/>
<ellipse cx="1072.6" cy="685.6" rx="3" ry="8" stroke-width="0.8"/>
<ellipse cx="1078.4" cy="685.6" rx="3" ry="8" stroke-width="0.8"/>
<path d="M1081.7,679.3 L1113,679.3 A6.6,6.6 0 0 1 1113,692.6 L1081.7,692.6 Z" stroke-width="1" fill="#fff"/>
<line x1="1085" y1="681" x2="1085" y2="691" stroke-width="0.7"/>
<line x1="1102" y1="681" x2="1102" y2="691" stroke-width="0.7"/>
<rect x="1058.5" y="694.7" width="21.1" height="5.1" stroke-width="0.9" fill="#fff"/>
<rect x="1009" y="695" width="45" height="2" stroke-width="0.7"/>
<ellipse cx="1035" cy="670" rx="2" ry="3" stroke-width="0.9"/>
<ellipse cx="1038.5" cy="670" rx="2" ry="3" stroke-width="0.9"/>
<ellipse cx="1042" cy="670" rx="2" ry="3" stroke-width="0.9"/>
<polygon points="946.9,723.9 999.9,716 1003.5,726.3 950.5,740.7" stroke-width="0.9" fill="#fff"/>
<circle cx="957.2" cy="731.1" r="5" stroke-width="0.9"/>
<circle cx="957.2" cy="731.1" r="2" stroke-width="0.9"/>
<circle cx="934.9" cy="735.9" r="4.5" stroke-width="0.9" fill="#fff"/>
<line x1="939" y1="734.5" x2="952" y2="732" stroke-width="0.8"/>
<path d="M965,740 L985,738 Q990,739 988,742 L968,744 Q963,743 965,740 Z" stroke-width="0.8"/>
<line x1="928" y1="718" x2="946" y2="726" stroke-width="0.8"/>
<path d="M961,722 L968,709 L975,708" stroke-width="0.8"/>
<path d="M535,556.5 L539,547 L541,545 L541,533 L544,532 L544,546 L540,552 L537,556.5" stroke-width="0.9"/>
<path d="M535,815.5 L539,825 L541,827 L541,840 L544,841 L544,826 L540,820" stroke-width="0.9"/>
</g>
<g id="iso" fill="none" stroke="#262626" stroke-width="1">
<polyline points="1194.8,742.6 1194.2,722.3 1207.8,695.8 1238.3,678.5 1262,686.1 1274.4,697.2 1282,708" stroke-width="0.9" fill="#fff"/>
<polyline points="1216.7,730 1229.2,710 1245,700 1260,691.7 1272.5,698.3 1280,706" stroke-width="0.9"/>
<polyline points="1250,696.7 1260,691.7" stroke-width="0.9"/>
<circle cx="1258" cy="699" r="0.9" stroke-width="0.6" fill="#222"/>
<path d="M1222,738 Q1228,722 1246,713" stroke-width="1.6"/>
<path d="M1196,741 Q1200,733 1208,733 L1218,736" stroke-width="0.8"/>
<line x1="1190" y1="787" x2="1330" y2="842" stroke-width="0.9"/>
<line x1="1168.9" y1="770.4" x2="1336" y2="833" stroke-width="0.9"/>
<polygon points="1137.9,766.7 1138.8,782.4 1190.6,799 1190.6,787.5 1168.9,770.4" stroke-width="0.9" fill="#fff"/>
<circle cx="1147" cy="779" r="0.8" stroke-width="0.6" fill="#222"/>
<circle cx="1183" cy="793" r="0.8" stroke-width="0.6" fill="#222"/>
<line x1="1270.6" y1="741.7" x2="1312.2" y2="756.5" stroke-width="0.9"/>
<line x1="1271.5" y1="752.8" x2="1309.4" y2="766.2" stroke-width="0.9"/>
<line x1="1333.5" y1="765.7" x2="1372" y2="779" stroke-width="0.9"/>
<line x1="1330.7" y1="774.1" x2="1368" y2="787" stroke-width="0.9"/>
<line x1="1368.7" y1="691.9" x2="1391.9" y2="708" stroke-width="0.9"/>
<line x1="1362" y1="700" x2="1385" y2="716" stroke-width="0.9"/>
<line x1="1440" y1="718" x2="1476" y2="735" stroke-width="0.9"/>
<line x1="1436" y1="727" x2="1472" y2="742" stroke-width="0.9"/>
<line x1="1290" y1="765" x2="1392" y2="796" stroke-width="0.7"/>
<line x1="1341" y1="658.5" x2="1622.2" y2="555.6" stroke-width="1"/>
<line x1="1357" y1="666.5" x2="1624.4" y2="567.8" stroke-width="1"/>
<line x1="1386.8" y1="654.2" x2="1388.8" y2="650.2" stroke-width="1"/>
<line x1="1430" y1="638.7" x2="1432" y2="634.7" stroke-width="1"/>
<line x1="1476" y1="622" x2="1478" y2="618" stroke-width="1"/>
<line x1="1523.5" y1="604.2" x2="1525.5" y2="600.2" stroke-width="1"/>
<line x1="1569" y1="587.6" x2="1571" y2="583.6" stroke-width="1"/>
<line x1="1592" y1="578.7" x2="1594" y2="574.7" stroke-width="1"/>
<rect x="1415" y="645.5" width="6" height="3" rx="2" transform="rotate(-20 1418 647)" stroke-width="0.8" fill="#fff"/>
<line x1="1512.6" y1="640.7" x2="1590" y2="597" stroke-width="0.9"/>
<line x1="1523" y1="646.7" x2="1610" y2="597" stroke-width="0.9"/>
<line x1="1390" y1="682" x2="1459.3" y2="663.7" stroke-width="0.9"/>
<line x1="1405" y1="690" x2="1472.6" y2="677" stroke-width="0.9"/>
<polygon points="1458.5,664.4 1500.7,638.5 1523,646.7 1480.7,673.3" stroke-width="1" fill="#fff"/>
<polyline points="1470,669 1473,677 1476,676" stroke-width="0.8"/>
<path d="M1462.23,663.44 a1.5,1.2 0 1 0 3,0 a1.5,1.2 0 1 0 -3,0 M1474.29,656.04 a1.5,1.2 0 1 0 3,0 a1.5,1.2 0 1 0 -3,0 M1486.35,648.64 a1.5,1.2 0 1 0 3,0 a1.5,1.2 0 1 0 -3,0 M1498.41,641.24 a1.5,1.2 0 1 0 3,0 a1.5,1.2 0 1 0 -3,0 M1472.7,661.52 a1.5,1.2 0 1 0 3,0 a1.5,1.2 0 1 0 -3,0 M1484.76,654.12 a1.5,1.2 0 1 0 3,0 a1.5,1.2 0 1 0 -3,0 M1496.82,646.72 a1.5,1.2 0 1 0 3,0 a1.5,1.2 0 1 0 -3,0 M1471.11,667 a1.5,1.2 0 1 0 3,0 a1.5,1.2 0 1 0 -3,0 M1483.17,659.6 a1.5,1.2 0 1 0 3,0 a1.5,1.2 0 1 0 -3,0 M1495.23,652.2 a1.5,1.2 0 1 0 3,0 a1.5,1.2 0 1 0 -3,0 M1507.29,644.8 a1.5,1.2 0 1 0 3,0 a1.5,1.2 0 1 0 -3,0 M1481.58,665.08 a1.5,1.2 0 1 0 3,0 a1.5,1.2 0 1 0 -3,0 M1493.64,657.68 a1.5,1.2 0 1 0 3,0 a1.5,1.2 0 1 0 -3,0 M1505.7,650.28 a1.5,1.2 0 1 0 3,0 a1.5,1.2 0 1 0 -3,0 M1479.99,670.56 a1.5,1.2 0 1 0 3,0 a1.5,1.2 0 1 0 -3,0 M1492.05,663.16 a1.5,1.2 0 1 0 3,0 a1.5,1.2 0 1 0 -3,0 M1504.11,655.76 a1.5,1.2 0 1 0 3,0 a1.5,1.2 0 1 0 -3,0 M1516.17,648.36 a1.5,1.2 0 1 0 3,0 a1.5,1.2 0 1 0 -3,0 " stroke-width="1.3"/>
<path d="M1331,813 L1341.9,793.7 Q1390,765 1424.8,744.8 Q1480,716 1527,690 L1628.9,589.6" stroke-width="1"/>
<path d="M1345,822 L1374.4,796.7 Q1410,775 1447,752.2 Q1490,724 1530,694.4 L1631,595.6" stroke-width="1"/>
<rect x="1489" y="663.5" width="14" height="5" rx="2" transform="rotate(-25 1496 666)" stroke-width="0.9" fill="#fff"/>
<path d="M1462,700 L1466,692 Q1469,689 1471,693 L1471,703" stroke-width="0.9"/>
<path d="M1340,796 L1336,805 L1344,810" stroke-width="0.9"/>
<polygon points="1160,764.7 1341,658.4 1358,666 1175,773.4" stroke-width="1" fill="#fff"/>
<line x1="1341" y1="658.5" x2="1352" y2="661" stroke-width="0.8"/>
<path d="M1180.5,756.68 a2.1,1.6 0 1 0 4.2,0 a2.1,1.6 0 1 0 -4.2,0 M1191.62,757.85 a2.1,1.6 0 1 0 4.2,0 a2.1,1.6 0 1 0 -4.2,0 M1189.66,751.3 a2.1,1.6 0 1 0 4.2,0 a2.1,1.6 0 1 0 -4.2,0 M1200.78,752.47 a2.1,1.6 0 1 0 4.2,0 a2.1,1.6 0 1 0 -4.2,0 M1198.81,745.92 a2.1,1.6 0 1 0 4.2,0 a2.1,1.6 0 1 0 -4.2,0 M1209.94,747.1 a2.1,1.6 0 1 0 4.2,0 a2.1,1.6 0 1 0 -4.2,0 M1207.97,740.55 a2.1,1.6 0 1 0 4.2,0 a2.1,1.6 0 1 0 -4.2,0 M1219.09,741.72 a2.1,1.6 0 1 0 4.2,0 a2.1,1.6 0 1 0 -4.2,0 M1217.13,735.17 a2.1,1.6 0 1 0 4.2,0 a2.1,1.6 0 1 0 -4.2,0 M1228.25,736.34 a2.1,1.6 0 1 0 4.2,0 a2.1,1.6 0 1 0 -4.2,0 M1226.28,729.79 a2.1,1.6 0 1 0 4.2,0 a2.1,1.6 0 1 0 -4.2,0 M1237.41,730.96 a2.1,1.6 0 1 0 4.2,0 a2.1,1.6 0 1 0 -4.2,0 M1235.44,724.41 a2.1,1.6 0 1 0 4.2,0 a2.1,1.6 0 1 0 -4.2,0 M1246.56,725.59 a2.1,1.6 0 1 0 4.2,0 a2.1,1.6 0 1 0 -4.2,0 M1244.6,719.04 a2.1,1.6 0 1 0 4.2,0 a2.1,1.6 0 1 0 -4.2,0 M1255.72,720.21 a2.1,1.6 0 1 0 4.2,0 a2.1,1.6 0 1 0 -4.2,0 M1253.75,713.66 a2.1,1.6 0 1 0 4.2,0 a2.1,1.6 0 1 0 -4.2,0 M1264.88,714.83 a2.1,1.6 0 1 0 4.2,0 a2.1,1.6 0 1 0 -4.2,0 M1262.91,708.28 a2.1,1.6 0 1 0 4.2,0 a2.1,1.6 0 1 0 -4.2,0 M1274.03,709.45 a2.1,1.6 0 1 0 4.2,0 a2.1,1.6 0 1 0 -4.2,0 M1272.06,702.9 a2.1,1.6 0 1 0 4.2,0 a2.1,1.6 0 1 0 -4.2,0 M1283.19,704.08 a2.1,1.6 0 1 0 4.2,0 a2.1,1.6 0 1 0 -4.2,0 M1281.22,697.53 a2.1,1.6 0 1 0 4.2,0 a2.1,1.6 0 1 0 -4.2,0 M1292.35,698.7 a2.1,1.6 0 1 0 4.2,0 a2.1,1.6 0 1 0 -4.2,0 M1290.38,692.15 a2.1,1.6 0 1 0 4.2,0 a2.1,1.6 0 1 0 -4.2,0 M1301.5,693.32 a2.1,1.6 0 1 0 4.2,0 a2.1,1.6 0 1 0 -4.2,0 M1299.53,686.77 a2.1,1.6 0 1 0 4.2,0 a2.1,1.6 0 1 0 -4.2,0 M1310.66,687.94 a2.1,1.6 0 1 0 4.2,0 a2.1,1.6 0 1 0 -4.2,0 M1308.69,681.39 a2.1,1.6 0 1 0 4.2,0 a2.1,1.6 0 1 0 -4.2,0 M1319.82,682.57 a2.1,1.6 0 1 0 4.2,0 a2.1,1.6 0 1 0 -4.2,0 M1317.85,676.02 a2.1,1.6 0 1 0 4.2,0 a2.1,1.6 0 1 0 -4.2,0 M1328.97,677.19 a2.1,1.6 0 1 0 4.2,0 a2.1,1.6 0 1 0 -4.2,0 M1327,670.64 a2.1,1.6 0 1 0 4.2,0 a2.1,1.6 0 1 0 -4.2,0 M1338.13,671.81 a2.1,1.6 0 1 0 4.2,0 a2.1,1.6 0 1 0 -4.2,0 M1336.16,665.26 a2.1,1.6 0 1 0 4.2,0 a2.1,1.6 0 1 0 -4.2,0 M1347.29,666.43 a2.1,1.6 0 1 0 4.2,0 a2.1,1.6 0 1 0 -4.2,0 " stroke-width="1.6"/>
<ellipse cx="1352.2" cy="657.8" rx="3.5" ry="5" stroke-width="1.1" fill="#fff"/>
<path d="M1319,664 L1325,660 L1328,664 L1322,668 Z" stroke-width="1.4"/>
<line x1="1230" y1="752" x2="1310" y2="708" stroke-width="0.8"/>
<path d="M1259.4,740.7 L1300.2,707.4 L1303,711 L1263,745 Z" stroke-width="0.9"/>
<line x1="1261" y1="743" x2="1263" y2="746" stroke-width="0.6"/>
<line x1="1267.67" y1="737.5" x2="1269.67" y2="740.5" stroke-width="0.6"/>
<line x1="1274.33" y1="732" x2="1276.33" y2="735" stroke-width="0.6"/>
<line x1="1281" y1="726.5" x2="1283" y2="729.5" stroke-width="0.6"/>
<line x1="1287.67" y1="721" x2="1289.67" y2="724" stroke-width="0.6"/>
<line x1="1294.33" y1="715.5" x2="1296.33" y2="718.5" stroke-width="0.6"/>
<line x1="1250" y1="730" x2="1290" y2="712" stroke-width="0.8"/>
<path d="M1139,752 Q1134,758 1136,765 Q1140,772 1150,772 L1157.8,771.3 Q1160,762 1155,753 L1144,750 Z" stroke-width="1.1" fill="#fff"/>
<polygon points="1139.3,764.8 1146.2,755.1 1155,769.4" stroke-width="0.9"/>
<polygon points="1157.8,755.6 1189.3,740.7 1191,745.5 1160,761" stroke-width="0.9" fill="#fff"/>
<path d="M1310,814 Q1305,820 1307,827 Q1311,834 1321,834 L1328.8,833.3 Q1331,824 1326,815 L1315,812 Z" stroke-width="1.1" fill="#fff"/>
<polygon points="1310.3,826.8 1317.2,817.1 1326,831.4" stroke-width="0.9"/>
<line x1="1225" y1="733" x2="1210" y2="765" stroke-width="0.8"/>
<line x1="1229" y1="733" x2="1214" y2="765" stroke-width="0.8"/>
<line x1="1220" y1="785" x2="1251" y2="766" stroke-width="0.8"/>
<line x1="1224" y1="785" x2="1255" y2="766" stroke-width="0.8"/>
<line x1="1377.8" y1="672.4" x2="1386.1" y2="682.6" stroke-width="0.8"/>
<line x1="1381.8" y1="672.4" x2="1390.1" y2="682.6" stroke-width="0.8"/>
<line x1="1356" y1="689" x2="1350" y2="705" stroke-width="0.8"/>
<line x1="1360" y1="689" x2="1354" y2="705" stroke-width="0.8"/>
<rect x="1217.2" y="721.91" width="26.59" height="13.88" rx="3" transform="rotate(-29.26 1230.5 728.85)" stroke-width="1" fill="#fff"/>
<line x1="1224.02" y1="739.6" x2="1243.74" y2="728.55" stroke-width="2.2"/>
<rect x="1195.9" y="752.5" width="22.9" height="16.1" rx="3" transform="rotate(-31.61 1207.35 760.55)" stroke-width="1" fill="#fff"/>
<line x1="1202.35" y1="772.1" x2="1218.93" y2="761.9" stroke-width="2.2"/>
<rect x="1210.77" y="774.47" width="23.67" height="15.45" rx="3" transform="rotate(-30.47 1222.6 782.2)" stroke-width="1" fill="#fff"/>
<line x1="1217.24" y1="793.4" x2="1234.58" y2="783.2" stroke-width="2.2"/>
<rect x="1237.34" y="760.34" width="23.32" height="14.32" rx="3" transform="rotate(-30.96 1249 767.5)" stroke-width="1" fill="#fff"/>
<line x1="1244" y1="778" x2="1261" y2="767.8" stroke-width="2.2"/>
<rect x="1366.62" y="657.25" width="23.66" height="12.79" rx="3" transform="rotate(-34.5 1378.45 663.65)" stroke-width="1" fill="#fff"/>
<line x1="1373.45" y1="673.96" x2="1390.03" y2="662.57" stroke-width="2.2"/>
<rect x="1382.39" y="677.92" width="22.61" height="13.57" rx="3" transform="rotate(-35.1 1393.7 684.7)" stroke-width="1" fill="#fff"/>
<line x1="1389.05" y1="695.3" x2="1404.78" y2="684.25" stroke-width="2.2"/>
<rect x="1338.5" y="670.22" width="21.7" height="14.56" rx="3" transform="rotate(-30.47 1349.35 677.5)" stroke-width="1" fill="#fff"/>
<line x1="1343.87" y1="688.1" x2="1359.77" y2="678.75" stroke-width="2.2"/>
<rect x="1351.47" y="697.37" width="22.35" height="13.57" rx="3" transform="rotate(-29.78 1362.65 704.15)" stroke-width="1" fill="#fff"/>
<line x1="1357.64" y1="713.99" x2="1374.13" y2="704.55" stroke-width="2.2"/>
<rect x="1202" y="778" width="7" height="12" stroke-width="0.9" fill="#fff" rx="1"/>
<rect x="1346" y="699" width="7" height="11" stroke-width="0.9" fill="#fff" rx="1"/>
<rect x="1235" y="751.5" width="8" height="11" rx="1" transform="rotate(-30 1239 757)" stroke-width="0.9" fill="#fff"/>
<rect x="1364" y="688.5" width="8" height="11" rx="1" transform="rotate(-30 1368 694)" stroke-width="0.9" fill="#fff"/>
<g transform="rotate(-22 1262.2 800)">
<path d="M1262.2,789 A9,11 0 0 0 1254.2,800 L1254.2,800 A9,11 0 0 1 1262.2,811 Z" stroke-width="0.9" fill="#fff"/>
<ellipse cx="1254.2" cy="800" rx="9" ry="11" stroke-width="0.9" fill="#fff"/>
<ellipse cx="1262.2" cy="800" rx="9" ry="11" stroke-width="0.9" fill="#fff"/>
<ellipse cx="1262.2" cy="800" rx="8.1" ry="9.9" stroke-width="0.5"/>
<path d="M1266.7,800L1269.85,800M1266.55,801.42L1269.59,802.42M1266.1,802.75L1268.83,804.67M1265.38,803.89L1267.61,806.61M1264.45,804.76L1266.03,808.1M1263.36,805.31L1264.18,809.03M1262.2,805.5L1262.2,809.35M1261.04,805.31L1260.22,809.03M1259.95,804.76L1258.38,808.1M1259.02,803.89L1256.79,806.61M1258.3,802.75L1255.57,804.67M1257.85,801.42L1254.81,802.42M1257.7,800L1254.55,800M1257.85,798.58L1254.81,797.58M1258.3,797.25L1255.57,795.33M1259.02,796.11L1256.79,793.39M1259.95,795.24L1258.38,791.9M1261.04,794.69L1260.22,790.97M1262.2,794.5L1262.2,790.65M1263.36,794.69L1264.18,790.97M1264.45,795.24L1266.03,791.9M1265.38,796.11L1267.61,793.39M1266.1,797.25L1268.83,795.33M1266.55,798.58L1269.59,797.58" stroke-width="0.7"/>
<ellipse cx="1262.2" cy="800" rx="4.05" ry="4.95" stroke-width="1"/>
<ellipse cx="1262.2" cy="800" rx="1.98" ry="2.42" stroke-width="0.9"/>
</g>
<g transform="rotate(-22 1281.7 788.9)">
<path d="M1281.7,777.9 A9,11 0 0 0 1273.7,788.9 L1273.7,788.9 A9,11 0 0 1 1281.7,799.9 Z" stroke-width="0.9" fill="#fff"/>
<ellipse cx="1273.7" cy="788.9" rx="9" ry="11" stroke-width="0.9" fill="#fff"/>
<ellipse cx="1281.7" cy="788.9" rx="9" ry="11" stroke-width="0.9" fill="#fff"/>
<ellipse cx="1281.7" cy="788.9" rx="8.1" ry="9.9" stroke-width="0.5"/>
<path d="M1286.2,788.9L1289.35,788.9M1286.05,790.32L1289.09,791.32M1285.6,791.65L1288.33,793.57M1284.88,792.79L1287.11,795.51M1283.95,793.66L1285.53,797M1282.86,794.21L1283.68,797.93M1281.7,794.4L1281.7,798.25M1280.54,794.21L1279.72,797.93M1279.45,793.66L1277.88,797M1278.52,792.79L1276.29,795.51M1277.8,791.65L1275.07,793.57M1277.35,790.32L1274.31,791.32M1277.2,788.9L1274.05,788.9M1277.35,787.48L1274.31,786.48M1277.8,786.15L1275.07,784.23M1278.52,785.01L1276.29,782.29M1279.45,784.14L1277.88,780.8M1280.54,783.59L1279.72,779.87M1281.7,783.4L1281.7,779.55M1282.86,783.59L1283.68,779.87M1283.95,784.14L1285.53,780.8M1284.88,785.01L1287.11,782.29M1285.6,786.15L1288.33,784.23M1286.05,787.48L1289.09,786.48" stroke-width="0.7"/>
<ellipse cx="1281.7" cy="788.9" rx="4.05" ry="4.95" stroke-width="1"/>
<ellipse cx="1281.7" cy="788.9" rx="1.98" ry="2.42" stroke-width="0.9"/>
</g>
<g transform="rotate(-22 1296.5 777.8)">
<path d="M1296.5,766.8 A9,11 0 0 0 1288.5,777.8 L1288.5,777.8 A9,11 0 0 1 1296.5,788.8 Z" stroke-width="0.9" fill="#fff"/>
<ellipse cx="1288.5" cy="777.8" rx="9" ry="11" stroke-width="0.9" fill="#fff"/>
<ellipse cx="1296.5" cy="777.8" rx="9" ry="11" stroke-width="0.9" fill="#fff"/>
<ellipse cx="1296.5" cy="777.8" rx="8.1" ry="9.9" stroke-width="0.5"/>
<path d="M1301,777.8L1304.15,777.8M1300.85,779.22L1303.89,780.22M1300.4,780.55L1303.13,782.47M1299.68,781.69L1301.91,784.41M1298.75,782.56L1300.33,785.9M1297.66,783.11L1298.48,786.83M1296.5,783.3L1296.5,787.15M1295.34,783.11L1294.52,786.83M1294.25,782.56L1292.67,785.9M1293.32,781.69L1291.09,784.41M1292.6,780.55L1289.87,782.47M1292.15,779.22L1289.11,780.22M1292,777.8L1288.85,777.8M1292.15,776.38L1289.11,775.38M1292.6,775.05L1289.87,773.12M1293.32,773.91L1291.09,771.19M1294.25,773.04L1292.67,769.7M1295.34,772.49L1294.52,768.77M1296.5,772.3L1296.5,768.45M1297.66,772.49L1298.48,768.77M1298.75,773.04L1300.33,769.7M1299.68,773.91L1301.91,771.19M1300.4,775.05L1303.13,773.12M1300.85,776.38L1303.89,775.38" stroke-width="0.7"/>
<ellipse cx="1296.5" cy="777.8" rx="4.05" ry="4.95" stroke-width="1"/>
<ellipse cx="1296.5" cy="777.8" rx="1.98" ry="2.42" stroke-width="0.9"/>
</g>
<g transform="rotate(-22 1323.8 763.9)">
<path d="M1323.8,752.9 A9,11 0 0 0 1315.8,763.9 L1315.8,763.9 A9,11 0 0 1 1323.8,774.9 Z" stroke-width="0.9" fill="#fff"/>
<ellipse cx="1315.8" cy="763.9" rx="9" ry="11" stroke-width="0.9" fill="#fff"/>
<ellipse cx="1323.8" cy="763.9" rx="9" ry="11" stroke-width="0.9" fill="#fff"/>
<ellipse cx="1323.8" cy="763.9" rx="8.1" ry="9.9" stroke-width="0.5"/>
<path d="M1328.3,763.9L1331.45,763.9M1328.15,765.32L1331.19,766.32M1327.7,766.65L1330.43,768.57M1326.98,767.79L1329.21,770.51M1326.05,768.66L1327.62,772M1324.96,769.21L1325.78,772.93M1323.8,769.4L1323.8,773.25M1322.64,769.21L1321.82,772.93M1321.55,768.66L1319.97,772M1320.62,767.79L1318.39,770.51M1319.9,766.65L1317.17,768.57M1319.45,765.32L1316.41,766.32M1319.3,763.9L1316.15,763.9M1319.45,762.48L1316.41,761.48M1319.9,761.15L1317.17,759.23M1320.62,760.01L1318.39,757.29M1321.55,759.14L1319.97,755.8M1322.64,758.59L1321.82,754.87M1323.8,758.4L1323.8,754.55M1324.96,758.59L1325.78,754.87M1326.05,759.14L1327.62,755.8M1326.98,760.01L1329.21,757.29M1327.7,761.15L1330.43,759.23M1328.15,762.48L1331.19,761.48" stroke-width="0.7"/>
<ellipse cx="1323.8" cy="763.9" rx="4.05" ry="4.95" stroke-width="1"/>
<ellipse cx="1323.8" cy="763.9" rx="1.98" ry="2.42" stroke-width="0.9"/>
</g>
<g transform="rotate(-22 1399.3 716.9)">
<path d="M1399.3,705.3 A9.5,11.6 0 0 0 1391.3,716.9 L1391.3,716.9 A9.5,11.6 0 0 1 1399.3,728.5 Z" stroke-width="0.9" fill="#fff"/>
<ellipse cx="1391.3" cy="716.9" rx="9.5" ry="11.6" stroke-width="0.9" fill="#fff"/>
<ellipse cx="1399.3" cy="716.9" rx="9.5" ry="11.6" stroke-width="0.9" fill="#fff"/>
<ellipse cx="1399.3" cy="716.9" rx="8.55" ry="10.44" stroke-width="0.5"/>
<path d="M1404.05,716.9L1407.38,716.9M1403.89,718.4L1407.1,719.45M1403.41,719.8L1406.29,721.83M1402.66,721L1405.01,723.87M1401.67,721.92L1403.34,725.44M1400.53,722.5L1401.39,726.42M1399.3,722.7L1399.3,726.76M1398.07,722.5L1397.21,726.42M1396.92,721.92L1395.26,725.44M1395.94,721L1393.59,723.87M1395.19,719.8L1392.31,721.83M1394.71,718.4L1391.5,719.45M1394.55,716.9L1391.22,716.9M1394.71,715.4L1391.5,714.35M1395.19,714L1392.31,711.97M1395.94,712.8L1393.59,709.93M1396.92,711.88L1395.26,708.36M1398.07,711.3L1397.21,707.38M1399.3,711.1L1399.3,707.04M1400.53,711.3L1401.39,707.38M1401.67,711.88L1403.34,708.36M1402.66,712.8L1405.01,709.93M1403.41,714L1406.29,711.97M1403.89,715.4L1407.1,714.35" stroke-width="0.7"/>
<ellipse cx="1399.3" cy="716.9" rx="4.28" ry="5.22" stroke-width="1"/>
<ellipse cx="1399.3" cy="716.9" rx="2.09" ry="2.55" stroke-width="0.9"/>
</g>
<g transform="rotate(-22 1415.9 707.6)">
<path d="M1415.9,696 A9.5,11.6 0 0 0 1407.9,707.6 L1407.9,707.6 A9.5,11.6 0 0 1 1415.9,719.2 Z" stroke-width="0.9" fill="#fff"/>
<ellipse cx="1407.9" cy="707.6" rx="9.5" ry="11.6" stroke-width="0.9" fill="#fff"/>
<ellipse cx="1415.9" cy="707.6" rx="9.5" ry="11.6" stroke-width="0.9" fill="#fff"/>
<ellipse cx="1415.9" cy="707.6" rx="8.55" ry="10.44" stroke-width="0.5"/>
<path d="M1420.65,707.6L1423.98,707.6M1420.49,709.1L1423.7,710.15M1420.01,710.5L1422.89,712.53M1419.26,711.7L1421.61,714.57M1418.28,712.62L1419.94,716.14M1417.13,713.2L1417.99,717.12M1415.9,713.4L1415.9,717.46M1414.67,713.2L1413.81,717.12M1413.53,712.62L1411.86,716.14M1412.54,711.7L1410.19,714.57M1411.79,710.5L1408.91,712.53M1411.31,709.1L1408.1,710.15M1411.15,707.6L1407.83,707.6M1411.31,706.1L1408.1,705.05M1411.79,704.7L1408.91,702.67M1412.54,703.5L1410.19,700.63M1413.53,702.58L1411.86,699.06M1414.67,702L1413.81,698.08M1415.9,701.8L1415.9,697.74M1417.13,702L1417.99,698.08M1418.28,702.58L1419.94,699.06M1419.26,703.5L1421.61,700.63M1420.01,704.7L1422.89,702.67M1420.49,706.1L1423.7,705.05" stroke-width="0.7"/>
<ellipse cx="1415.9" cy="707.6" rx="4.28" ry="5.22" stroke-width="1"/>
<ellipse cx="1415.9" cy="707.6" rx="2.09" ry="2.55" stroke-width="0.9"/>
</g>
<g transform="rotate(-22 1428.9 697.4)">
<path d="M1428.9,685.8 A9.5,11.6 0 0 0 1420.9,697.4 L1420.9,697.4 A9.5,11.6 0 0 1 1428.9,709 Z" stroke-width="0.9" fill="#fff"/>
<ellipse cx="1420.9" cy="697.4" rx="9.5" ry="11.6" stroke-width="0.9" fill="#fff"/>
<ellipse cx="1428.9" cy="697.4" rx="9.5" ry="11.6" stroke-width="0.9" fill="#fff"/>
<ellipse cx="1428.9" cy="697.4" rx="8.55" ry="10.44" stroke-width="0.5"/>
<path d="M1433.65,697.4L1436.98,697.4M1433.49,698.9L1436.7,699.95M1433.01,700.3L1435.89,702.33M1432.26,701.5L1434.61,704.37M1431.28,702.42L1432.94,705.94M1430.13,703L1430.99,706.92M1428.9,703.2L1428.9,707.26M1427.67,703L1426.81,706.92M1426.53,702.42L1424.86,705.94M1425.54,701.5L1423.19,704.37M1424.79,700.3L1421.91,702.33M1424.31,698.9L1421.1,699.95M1424.15,697.4L1420.83,697.4M1424.31,695.9L1421.1,694.85M1424.79,694.5L1421.91,692.47M1425.54,693.3L1423.19,690.43M1426.53,692.38L1424.86,688.86M1427.67,691.8L1426.81,687.88M1428.9,691.6L1428.9,687.54M1430.13,691.8L1430.99,687.88M1431.28,692.38L1432.94,688.86M1432.26,693.3L1434.61,690.43M1433.01,694.5L1435.89,692.47M1433.49,695.9L1436.7,694.85" stroke-width="0.7"/>
<ellipse cx="1428.9" cy="697.4" rx="4.28" ry="5.22" stroke-width="1"/>
<ellipse cx="1428.9" cy="697.4" rx="2.09" ry="2.55" stroke-width="0.9"/>
</g>
<g transform="rotate(-22 1447.9 688.1)">
<path d="M1447.9,676.5 A9.5,11.6 0 0 0 1439.9,688.1 L1439.9,688.1 A9.5,11.6 0 0 1 1447.9,699.7 Z" stroke-width="0.9" fill="#fff"/>
<ellipse cx="1439.9" cy="688.1" rx="9.5" ry="11.6" stroke-width="0.9" fill="#fff"/>
<ellipse cx="1447.9" cy="688.1" rx="9.5" ry="11.6" stroke-width="0.9" fill="#fff"/>
<ellipse cx="1447.9" cy="688.1" rx="8.55" ry="10.44" stroke-width="0.5"/>
<path d="M1452.65,688.1L1455.98,688.1M1452.49,689.6L1455.7,690.65M1452.01,691L1454.89,693.03M1451.26,692.2L1453.61,695.07M1450.28,693.12L1451.94,696.64M1449.13,693.7L1449.99,697.62M1447.9,693.9L1447.9,697.96M1446.67,693.7L1445.81,697.62M1445.53,693.12L1443.86,696.64M1444.54,692.2L1442.19,695.07M1443.79,691L1440.91,693.03M1443.31,689.6L1440.1,690.65M1443.15,688.1L1439.83,688.1M1443.31,686.6L1440.1,685.55M1443.79,685.2L1440.91,683.17M1444.54,684L1442.19,681.13M1445.53,683.08L1443.86,679.56M1446.67,682.5L1445.81,678.58M1447.9,682.3L1447.9,678.24M1449.13,682.5L1449.99,678.58M1450.28,683.08L1451.94,679.56M1451.26,684L1453.61,681.13M1452.01,685.2L1454.89,683.17M1452.49,686.6L1455.7,685.55" stroke-width="0.7"/>
<ellipse cx="1447.9" cy="688.1" rx="4.28" ry="5.22" stroke-width="1"/>
<ellipse cx="1447.9" cy="688.1" rx="2.09" ry="2.55" stroke-width="0.9"/>
</g>
<rect x="1296" y="791.5" width="14" height="9" rx="1" transform="rotate(-28 1303 796)" stroke-width="0.9" fill="#fff"/>
<rect x="1423" y="720.5" width="14" height="9" rx="1" transform="rotate(-28 1430 725)" stroke-width="0.9" fill="#fff"/>
<rect x="1428" y="714" width="8" height="8" rx="1" transform="rotate(-20 1432 718)" stroke-width="0.9" fill="#fff"/>
<ellipse cx="1426.5" cy="804.2" rx="22.6" ry="35.4" stroke-width="2.6" fill="#fff" transform="rotate(8 1426.5 804.2)" stroke-dasharray="1,0.9"/>
<ellipse cx="1426.5" cy="804.2" rx="21.6" ry="34.4" stroke-width="0.8" transform="rotate(8 1426.5 804.2)"/>
<ellipse cx="1431" cy="804" rx="19.5" ry="34" stroke-width="0.9" fill="#fff" transform="rotate(8 1431 804)"/>
<ellipse cx="1426.5" cy="805.2" rx="14.5" ry="22.7" stroke-width="1.3" transform="rotate(12 1426.5 805.2)"/>
<ellipse cx="1426.5" cy="805.2" rx="11" ry="17.5" stroke-width="0.6" transform="rotate(12 1426.5 805.2)"/>
<ellipse cx="1424.5" cy="804.2" rx="6.5" ry="10.5" stroke-width="0.9" transform="rotate(12 1424.5 804.2)"/>
<ellipse cx="1424.5" cy="804.2" rx="2.5" ry="3.8" stroke-width="0.9" transform="rotate(12 1424.5 804.2)"/>
<circle cx="1439" cy="805.2" r="0.9" stroke-width="0.7"/>
<circle cx="1437.33" cy="814.95" r="0.9" stroke-width="0.7"/>
<circle cx="1432.75" cy="822.09" r="0.9" stroke-width="0.7"/>
<circle cx="1426.5" cy="824.7" r="0.9" stroke-width="0.7"/>
<circle cx="1420.25" cy="822.09" r="0.9" stroke-width="0.7"/>
<circle cx="1415.67" cy="814.95" r="0.9" stroke-width="0.7"/>
<circle cx="1414" cy="805.2" r="0.9" stroke-width="0.7"/>
<circle cx="1415.67" cy="795.45" r="0.9" stroke-width="0.7"/>
<circle cx="1420.25" cy="788.31" r="0.9" stroke-width="0.7"/>
<circle cx="1426.5" cy="785.7" r="0.9" stroke-width="0.7"/>
<circle cx="1432.75" cy="788.31" r="0.9" stroke-width="0.7"/>
<circle cx="1437.33" cy="795.45" r="0.9" stroke-width="0.7"/>
<polyline points="1378.1,818.4 1378.1,795 1389.3,768.5 1423,746.1 1427,744.1 1446.4,753.2 1457.6,763.4 1457.6,786.8 1454.5,783.8 1454.5,766.5 1445.4,759.3" stroke-width="1" fill="#fff"/>
<path d="M1378.1,818.4 L1396,825 L1402,824 Q1400,800 1406,784 Q1414,770 1445.4,759.3" stroke-width="0.9" fill="#fff"/>
<circle cx="1440" cy="766" r="0.9" stroke-width="0.6" fill="#222"/>
<circle cx="1453" cy="770" r="0.9" stroke-width="0.6" fill="#222"/>
<circle cx="1384.5" cy="816" r="0.8" stroke-width="0.6" fill="#222"/>
<circle cx="1393" cy="819" r="0.8" stroke-width="0.6" fill="#222"/>
<polygon points="1379.7,819.4 1399.5,825.5 1399.5,843.9 1379.7,836.7" stroke-width="1.3" fill="#fff"/>
<rect x="1383.5" y="831.5" width="11" height="5" rx="2" transform="rotate(15 1389 834)" stroke-width="0.8" fill="#fff"/>
<polygon points="1370,800.1 1396,806.2 1396,800 1373,794" stroke-width="0.9" fill="#fff"/>
<ellipse cx="1395" cy="803" rx="1.5" ry="3" stroke-width="0.8"/>
<path d="M1300,826 L1318,806 L1345,790 L1360,794" stroke-width="0.9"/>
<rect x="1348" y="787.5" width="14" height="5" rx="2" transform="rotate(-30 1355 790)" stroke-width="0.9" fill="#fff"/>
<ellipse cx="1368" cy="790" rx="2.5" ry="4" stroke-width="0.9"/>
<polygon points="1568.8,535.6 1598.6,517.4 1625.2,511.6 1571.4,546.6" stroke-width="1" fill="#fff"/>
<polygon points="1556.5,535.6 1568.1,536.8 1573.3,543.3 1570.7,549.2 1568.1,544.6 1555.8,543.3" stroke-width="1" fill="#fff"/>
<path d="M1588,527 L1592,525.5 L1593,528 L1589,529.5 Z" stroke-width="1.2"/>
<circle cx="1591" cy="532" r="0.9" stroke-width="1" fill="#222"/>
<polygon points="1610.9,492.1 1625.2,496.7 1625.2,510.9 1609.6,520 1604,518" stroke-width="1" fill="#fff"/>
<ellipse cx="1603.8" cy="505.7" rx="6" ry="13" stroke-width="1.1" fill="#fff" transform="rotate(-15 1603.8 505.7)"/>
<ellipse cx="1603.3" cy="506.5" rx="4.2" ry="10.5" stroke-width="0.6" transform="rotate(-15 1603.3 506.5)"/>
<path d="M1614.8,498 Q1607,504 1608.3,519.3" stroke-width="1.8"/>
<circle cx="1615.5" cy="507.5" r="0.8" stroke-width="0.6"/>
<circle cx="1623" cy="504" r="0.8" stroke-width="0.6"/>
<path d="M1608,493 L1614,490.5 L1621,494" stroke-width="0.8"/>
<path d="M1620.6,517.4 L1619.6,518.9 L1621.8,520.4 L1620.6,521.9 L1619.6,523.4 L1621.8,524.9 L1620.6,526.4 L1619.6,527.9 L1621.8,529.4 L1620.6,530.9 L1619.6,532.4 L1621.8,533.9 L1620.6,535.4 L1619.6,536.9 L1621.8,538.4 L1620.6,539.9 L1619.6,541.4 L1621.8,542.9 L1620.6,544.4 L1619.6,545.9 L1621.8,547.4 L1620.6,548.9" stroke-width="1.8"/>
<polyline points="1583,540.1 1571.1,596.7" stroke-width="1"/>
<polyline points="1593.1,534.9 1580.9,596.7" stroke-width="1"/>
<polyline points="1582.8,576 1601,604.5" stroke-width="1"/>
<polyline points="1588,573.4 1604.9,602" stroke-width="1"/>
<line x1="1590" y1="582" x2="1622" y2="571" stroke-width="0.9"/>
<rect x="1569" y="597.5" width="12" height="5" rx="2" transform="rotate(-20 1575 600)" stroke-width="0.9" fill="#fff"/>
<rect x="1573" y="600" width="4" height="15" stroke-width="0.9"/>
<polygon points="1624.3,554 1684,537 1684,543.6 1637.3,570.8 1626,569" stroke-width="1" fill="#fff"/>
<line x1="1640" y1="551" x2="1660" y2="574" stroke-width="0.6"/>
<polygon points="1659,534 1676,526 1687,530 1687,546 1670,552 1659,548" stroke-width="1" fill="#fff"/>
<polygon points="1662,530 1672,524 1678,526.5 1668,532.5" stroke-width="0.9" fill="#fff"/>
<line x1="1665" y1="540" x2="1682" y2="533" stroke-width="0.8"/>
<line x1="1674" y1="536" x2="1674" y2="546" stroke-width="0.7"/>
<line x1="1647.7" y1="557.8" x2="1669.7" y2="529.3" stroke-width="1"/>
<line x1="1650.5" y1="559.5" x2="1672.5" y2="531" stroke-width="1"/>
<circle cx="1650" cy="562" r="2.2" stroke-width="1"/>
<rect x="1633" y="544.9" width="6" height="5" rx="2" transform="rotate(-20 1636 547.4)" stroke-width="1" fill="#fff"/>
<line x1="1636" y1="550" x2="1632" y2="556" stroke-width="0.8"/>
<path d="M1622,571 L1628,566 L1633,569" stroke-width="0.9"/>
<rect x="1626.9" y="577.3" width="9.7" height="10.4" stroke-width="1.1" fill="#fff" rx="1"/>
<line x1="1631" y1="579" x2="1631" y2="586" stroke-width="1.4"/>
<rect x="1628" y="587.7" width="8" height="16.8" stroke-width="1" fill="#fff"/>
<line x1="1628" y1="598" x2="1636" y2="598" stroke-width="0.7"/>
<path d="M1638,588 Q1650,584 1650,597 Q1649,606 1641,607" stroke-width="1"/>
<circle cx="1646" cy="596" r="1.4" stroke-width="0.9"/>
<path d="M1632,606 Q1640,611 1648,607" stroke-width="0.8"/>
<path d="M1617,582 Q1621,575 1627,574" stroke-width="0.9"/>
</g>
<!-- DIMENSIONS -->
<g id="dims">
<g stroke="#a89886" stroke-width="1" fill="none">
<line x1="147.5" y1="120" x2="147.5" y2="302"/>
<line x1="1118.5" y1="120" x2="1118.5" y2="314"/>
<line x1="150" y1="131.5" x2="598" y2="131.5"/>
<line x1="668" y1="131.5" x2="1116" y2="131.5"/>
<line x1="1361.5" y1="116" x2="1361.5" y2="275"/>
<line x1="1712.5" y1="116" x2="1712.5" y2="275"/>
<line x1="1364" y1="126.5" x2="1501" y2="126.5"/>
<line x1="1573" y1="126.5" x2="1710" y2="126.5"/>
</g>
<g fill="#e4581a">
<path d="M148,131.5 L169.5,127.5 L169.5,135.5 Z"/>
<path d="M1118,131.5 L1096.5,127.5 L1096.5,135.5 Z"/>
<path d="M1362,126.5 L1383.5,122.5 L1383.5,130.5 Z"/>
<path d="M1712,126.5 L1690.5,122.5 L1690.5,130.5 Z"/>
</g>
<g fill="none" stroke="#bf5a24" stroke-width="1.6" stroke-linecap="butt">
<path d="M616.2,120.4 L607.5,120.4 L607.7,130.2 Q609.3,129.1 611.6,129.1 Q616.5,129.4 616.5,135.1 Q616.5,141.1 610.6,141.1 L607.1,141.1"/>
<path d="M620.2,123.4 L620.2,120.4 L630.9,120.4 L624.4,141.6"/>
<path d="M634.1,123.4 L634.1,120.4 L644.7,120.4 L638.3,141.6"/>
<ellipse cx="653.5" cy="130.8" rx="5" ry="10.6"/>
<path d="M1511,119.6 Q1512.8,115.6 1516.3,115.6 Q1521.4,115.6 1521.4,120.5 Q1521.4,123.2 1519,126.4 L1510.9,136.6 L1522,136.6"/>
<ellipse cx="1529.75" cy="126.2" rx="5" ry="10.6"/>
<ellipse cx="1543.2" cy="120.6" rx="4.2" ry="4.7"/>
<ellipse cx="1543.2" cy="131.2" rx="5.2" ry="5.6"/>
<ellipse cx="1557.6" cy="120.6" rx="4.2" ry="4.7"/>
<ellipse cx="1557.6" cy="131.2" rx="5.2" ry="5.6"/>
</g>
</g>
<!-- TITLE BLOCK -->
<g id="title">
<g stroke="#111" stroke-width="1.5" fill="none">
<rect x="1455.5" y="812.5" width="398" height="223"/>
<line x1="1455.5" y1="898.5" x2="1853.5" y2="898.5"/>
<line x1="1455.5" y1="955.5" x2="1853.5" y2="955.5"/>
<line x1="1455.5" y1="1003.5" x2="1853.5" y2="1003.5"/>
</g>
<g stroke="#555" stroke-width="1" fill="none">
<line x1="1503.5" y1="955.5" x2="1503.5" y2="1003.5"/>
<line x1="1805.5" y1="955.5" x2="1805.5" y2="1003.5"/>
<line x1="1567.5" y1="1003.5" x2="1567.5" y2="1035.5"/>
<line x1="1694.5" y1="1003.5" x2="1694.5" y2="1035.5"/>
</g>
<g fill="#222" stroke="#fff" stroke-width="0.2">
<text x="1459.5" y="918" font-size="17" textLength="33.5" lengthAdjust="spacingAndGlyphs">Title:</text>
<text x="1463.5" y="973" font-size="17" textLength="32" lengthAdjust="spacingAndGlyphs">Size</text>
<text x="1509.5" y="973" font-size="17" textLength="90" lengthAdjust="spacingAndGlyphs">Drawing No:</text>
<text x="1463.5" y="1025.5" font-size="17" textLength="43.5" lengthAdjust="spacingAndGlyphs">Scale:</text>
<text x="1572" y="1024" font-size="17" textLength="50.5" lengthAdjust="spacingAndGlyphs">Weight:</text>
</g>
<text x="1502" y="930.8" font-size="22" fill="#a5541f" stroke="#fff" stroke-width="0.3" textLength="295.5" lengthAdjust="spacingAndGlyphs">11610 Haagis 1000V571L209 kum-EU2</text>
<g fill="#ee5a24">
<!-- R -->
<g transform="translate(1535,815) scale(0.05467)">
<path d="M75,115 L740,115 C860,115 925,200 925,320 C925,420 870,500 775,515 L845,735 L645,735 L570,535 L270,535 L270,735 L75,735 Z M270,265 L270,400 L680,400 C720,400 740,370 740,332 C740,295 720,265 680,265 Z" fill-rule="evenodd"/>
<path d="M1025,115 L1785,115 L1785,250 L1220,250 L1220,370 L1705,370 L1705,490 L1220,490 L1220,600 L1785,600 L1785,735 L1025,735 Z"/>
</g>
<g transform="translate(1635,815) scale(0.05467)">
<path d="M790,150 L740,280 C640,245 540,232 430,232 C330,232 275,260 275,300 C275,345 330,360 440,368 C720,385 820,440 820,560 C820,700 660,755 440,755 C280,755 150,720 70,670 L135,550 C220,595 320,612 430,612 C550,612 600,590 600,555 C600,515 550,505 420,495 C180,480 70,420 70,305 C70,165 230,95 440,95 C580,95 700,115 790,150 Z"/>
<path d="M935,115 L1580,115 C1720,115 1800,200 1800,330 C1800,460 1720,540 1580,540 L1130,540 L1130,735 L935,735 Z M1130,265 L1130,405 L1540,405 C1590,405 1615,375 1615,335 C1615,295 1590,265 1540,265 Z" fill-rule="evenodd"/>
</g>
<g transform="translate(1700,815) scale(0.052083)">
<path d="M1165,100 C1430,100 1620,240 1620,450 C1620,650 1430,790 1165,790 C900,790 715,650 715,450 C715,240 900,100 1165,100 Z M1165,255 C1010,255 915,335 915,450 C915,565 1010,640 1165,640 C1320,640 1410,565 1410,450 C1410,335 1320,255 1165,255 Z" fill-rule="evenodd"/>
</g>
<g transform="translate(1625,858) scale(0.041667)">
<path d="M450,125 L1320,125 L1560,430 L1700,490 L1540,500 L1380,645 L1320,590 L1300,460 L1050,540 L900,710 L770,735 L800,690 L870,665 L910,500 L560,400 L520,350 L460,520 L570,740 L480,740 L250,460 L240,420 L280,310 L350,215 C280,240 180,290 150,400 L120,400 C150,280 260,200 450,125 Z"/>
<path d="M220,510 L300,600 L260,740 L175,740 Z"/>
<path d="M1100,585 L1210,540 L1250,740 L1180,740 Z"/>
</g>
</g>
</g>

</svg>
</body></html>
